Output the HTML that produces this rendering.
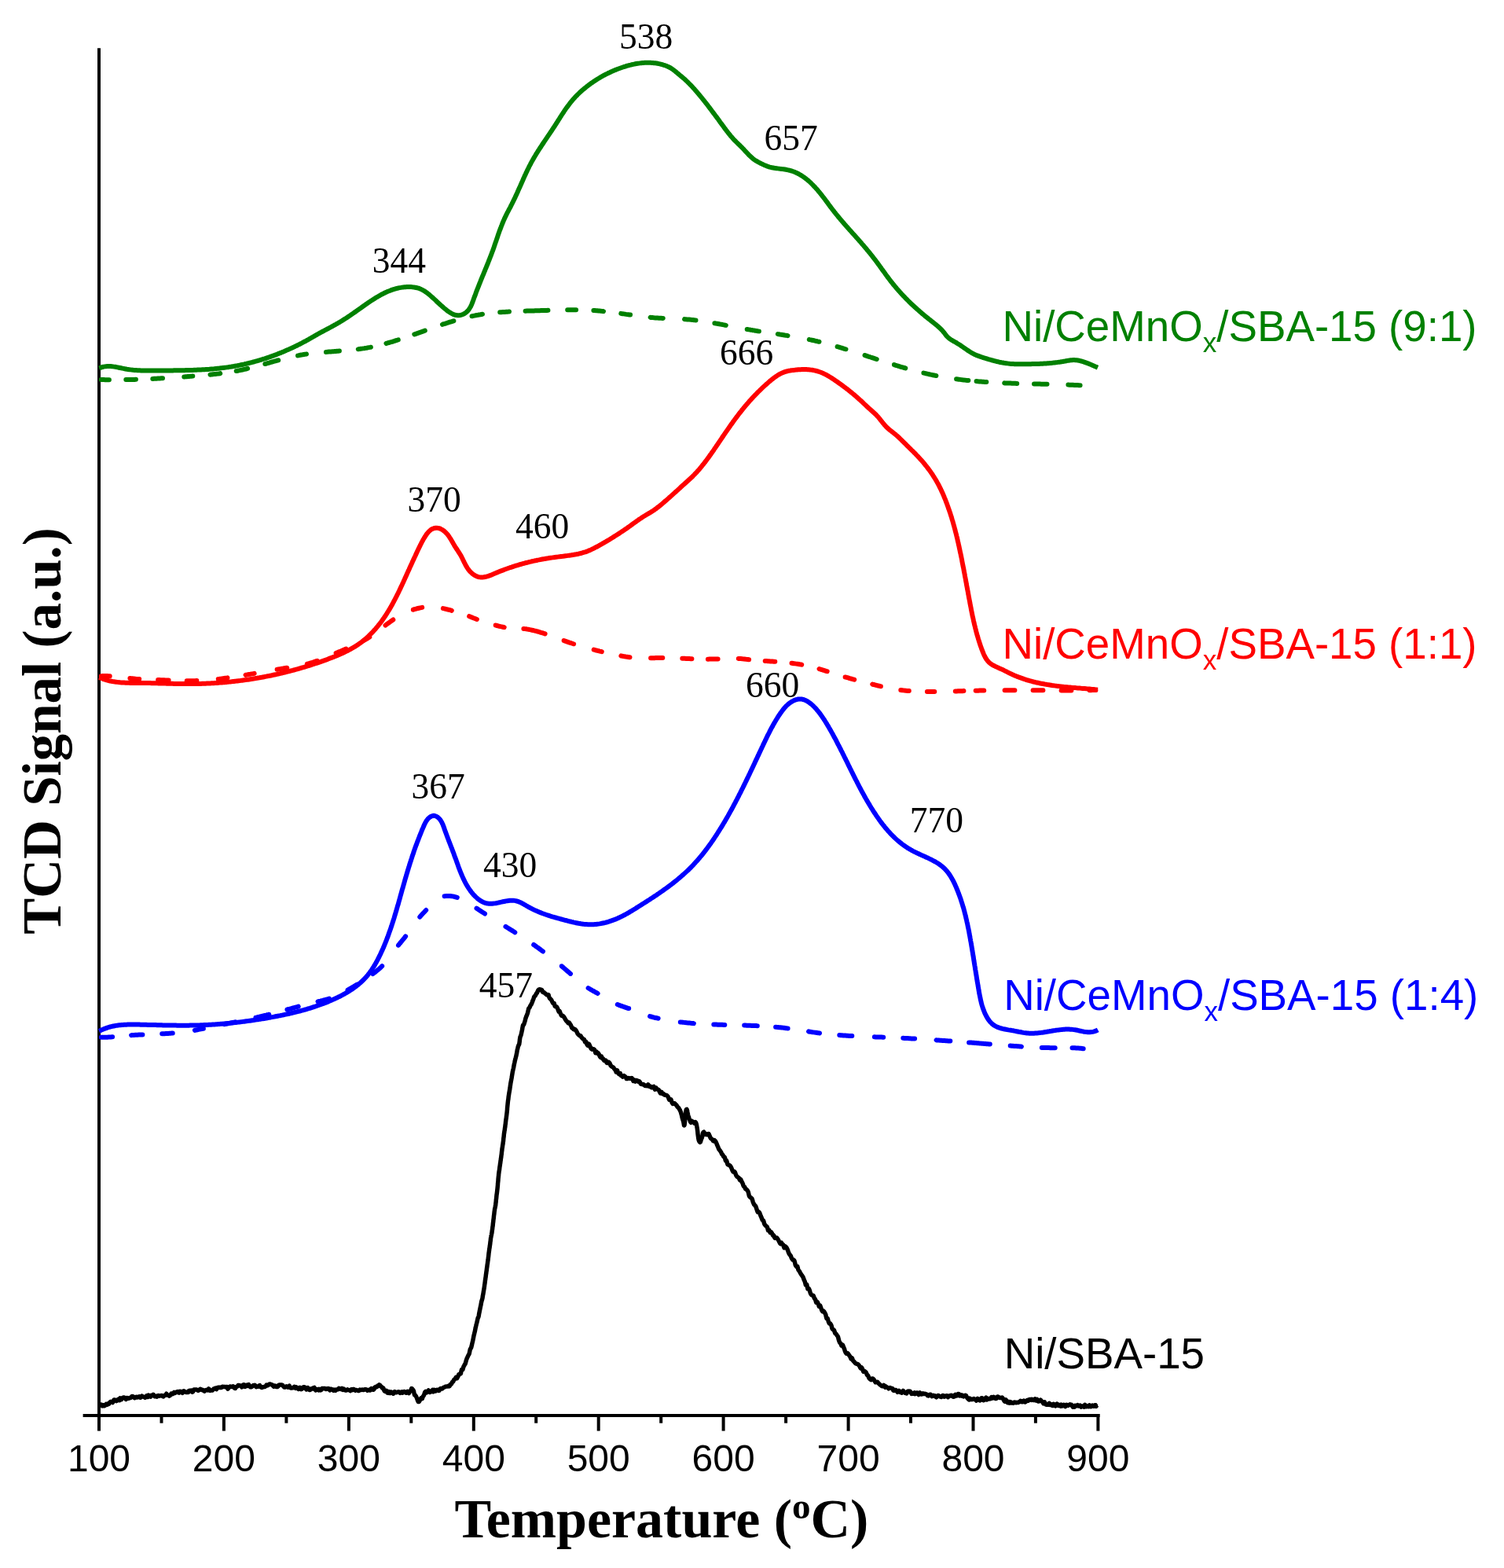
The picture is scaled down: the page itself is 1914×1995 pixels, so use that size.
<!DOCTYPE html>
<html><head><meta charset="utf-8"><title>TPR</title>
<style>html,body{margin:0;padding:0;background:#fff;}body{width:1914px;height:1995px;overflow:hidden;}svg{display:block;}</style>
</head><body>
<svg width="1914" height="1995" viewBox="0 0 1914 1995"><g stroke="#000" stroke-width="4" fill="none">
<line x1="126" y1="61.3" x2="126" y2="1803"/>
<line x1="105.6" y1="1801" x2="1399.6" y2="1801"/>
<line x1="126.0" y1="1799" x2="126.0" y2="1820.6"/>
<line x1="284.9" y1="1799" x2="284.9" y2="1820.6"/>
<line x1="443.9" y1="1799" x2="443.9" y2="1820.6"/>
<line x1="602.8" y1="1799" x2="602.8" y2="1820.6"/>
<line x1="761.7" y1="1799" x2="761.7" y2="1820.6"/>
<line x1="920.6" y1="1799" x2="920.6" y2="1820.6"/>
<line x1="1079.6" y1="1799" x2="1079.6" y2="1820.6"/>
<line x1="1238.5" y1="1799" x2="1238.5" y2="1820.6"/>
<line x1="1397.4" y1="1799" x2="1397.4" y2="1820.6"/>
<line x1="205.5" y1="1799" x2="205.5" y2="1810.7"/>
<line x1="364.4" y1="1799" x2="364.4" y2="1810.7"/>
<line x1="523.3" y1="1799" x2="523.3" y2="1810.7"/>
<line x1="682.2" y1="1799" x2="682.2" y2="1810.7"/>
<line x1="841.2" y1="1799" x2="841.2" y2="1810.7"/>
<line x1="1000.1" y1="1799" x2="1000.1" y2="1810.7"/>
<line x1="1159.0" y1="1799" x2="1159.0" y2="1810.7"/>
<line x1="1317.9" y1="1799" x2="1317.9" y2="1810.7"/>
</g>
<g font-family="Liberation Sans, Arial, sans-serif" font-size="48" text-anchor="middle" fill="#000">
<text x="126.0" y="1872.3">100</text>
<text x="284.9" y="1872.3">200</text>
<text x="443.9" y="1872.3">300</text>
<text x="602.8" y="1872.3">400</text>
<text x="761.7" y="1872.3">500</text>
<text x="920.6" y="1872.3">600</text>
<text x="1079.6" y="1872.3">700</text>
<text x="1238.5" y="1872.3">800</text>
<text x="1397.4" y="1872.3">900</text>
</g>
<path d="M128.8,483.1 L129.2,483.1 L130.7,483.1 L132.2,483.1 L133.7,483.2 L135.2,483.2 L136.7,483.2 L138.2,483.2 L138.9,483.2M160.3,483.1 L160.7,483.1 L162.2,483.1 L163.7,483.1 L165.2,483.0 L166.7,483.0 L168.2,483.0 L169.7,482.9 L171.2,482.9 L172.7,482.8 L172.9,482.8M194.3,481.9 L194.7,481.9 L196.2,481.8 L197.7,481.8 L199.2,481.7 L200.7,481.6 L202.2,481.5 L203.6,481.4 L205.1,481.3 L206.6,481.2 L207.0,481.2M234.3,479.4 L234.6,479.4 L236.1,479.3 L237.6,479.2 L239.1,479.0 L240.6,478.9 L242.1,478.8 L243.6,478.7 L245.0,478.6 L245.3,478.6M267.5,476.7 L268.0,476.6 L269.5,476.5 L270.9,476.3 L272.4,476.1 L273.9,476.0 L275.4,475.8 L276.9,475.6 L278.4,475.4 L279.9,475.3 L280.2,475.2M300.7,472.0 L301.1,472.0 L302.6,471.7 L304.1,471.4 L305.5,471.1 L307.0,470.8 L308.5,470.5 L309.9,470.1 L311.4,469.8 L312.9,469.5 L314.3,469.1 L315.1,468.9M337.3,463.0 L337.5,463.0 L339.0,462.6 L340.4,462.2 L341.8,461.8 L343.3,461.4 L344.7,460.9 L346.2,460.5 L347.6,460.1 L349.1,459.7 L350.5,459.3 L352.0,458.9 L353.4,458.5 L354.2,458.3M379.0,452.4 L379.2,452.4 L380.6,452.1 L382.1,451.8 L383.6,451.5 L385.1,451.3 L386.6,451.0 L388.0,450.8 L389.5,450.6 L390.0,450.5M414.9,447.9 L415.4,447.9 L416.9,447.7 L418.4,447.6 L419.9,447.5 L421.3,447.4 L422.8,447.3 L424.3,447.2 L425.8,447.1 L427.3,447.0 L428.8,446.8 L430.3,446.7 L431.8,446.6 L431.9,446.6M455.8,444.3 L456.2,444.2 L457.7,444.1 L459.2,443.8 L460.7,443.6 L462.1,443.4 L463.6,443.2 L465.1,442.9 L466.6,442.7 L468.1,442.4 L469.5,442.1 L471.0,441.9 L471.9,441.7M491.5,437.0 L491.9,436.8 L493.3,436.4 L494.8,436.0 L496.2,435.6 L497.7,435.2 L499.1,434.8 L500.5,434.3 L502.0,433.9 L503.4,433.4 L504.8,433.0 L506.3,432.5 L506.8,432.4M527.3,425.4 L527.6,425.3 L529.0,424.8 L530.4,424.3 L531.8,423.8 L533.2,423.3 L534.6,422.8 L536.1,422.3 L537.5,421.8 L538.9,421.3 L540.3,420.8 L540.8,420.6M563.0,412.9 L563.4,412.7 L564.8,412.2 L566.3,411.8 L567.7,411.3 L569.1,410.9 L570.6,410.4 L572.0,409.9 L573.4,409.5 L574.9,409.1 L576.3,408.6 L577.4,408.3M600.5,402.3 L601.0,402.2 L602.4,401.9 L603.9,401.6 L605.4,401.3 L606.8,401.0 L608.3,400.8 L609.8,400.5 L611.3,400.3 L612.8,400.0 L614.0,399.8M636.2,397.3 L636.6,397.3 L638.1,397.2 L639.6,397.1 L641.1,397.0 L642.6,396.9 L644.1,396.8 L645.6,396.7 L647.1,396.6 L648.0,396.5M668.6,395.7 L669.0,395.7 L670.5,395.6 L672.0,395.6 L673.5,395.6 L675.0,395.5 L676.5,395.5 L678.0,395.4 L679.5,395.4 L681.0,395.3 L682.5,395.3 L684.0,395.2 L685.5,395.2 L687.0,395.2 L688.5,395.1 L690.0,395.1 L691.5,395.0 L693.0,395.0 L694.5,394.9 L696.0,394.9 L697.4,394.8M722.2,394.2 L722.5,394.2 L724.0,394.2 L725.5,394.2 L727.0,394.2 L728.5,394.2 L730.0,394.2 L731.5,394.2 L733.0,394.2 L733.1,394.2M755.4,395.0 L755.5,395.0 L757.0,395.1 L758.5,395.2 L760.0,395.3 L761.5,395.5 L763.0,395.6 L764.5,395.7 L766.0,395.9 L767.5,396.0 L768.0,396.1M790.3,398.9 L790.8,399.0 L792.3,399.2 L793.7,399.4 L795.2,399.6 L796.7,399.9 L798.2,400.1 L799.7,400.3 L801.2,400.5 L802.1,400.6M827.7,403.8 L827.9,403.9 L829.4,404.0 L830.9,404.1 L832.4,404.3 L833.9,404.4 L835.4,404.5 L836.9,404.6 L838.4,404.7 L839.9,404.8 L841.4,404.8 L842.9,404.9 L843.8,405.0M871.1,406.1 L871.4,406.2 L872.9,406.3 L874.4,406.4 L875.9,406.5 L877.4,406.6 L878.9,406.7 L880.3,406.9 L881.8,407.0 L883.3,407.2 L884.8,407.4 L885.5,407.4M909.4,411.2 L909.5,411.2 L911.0,411.5 L912.5,411.7 L913.9,412.0 L915.4,412.3 L916.9,412.6 L918.4,412.8 L919.8,413.1 L921.3,413.4 L922.8,413.7 L923.8,413.9M950.7,418.9 L950.8,418.9 L952.3,419.2 L953.8,419.4 L955.2,419.7 L956.7,419.9 L958.2,420.2 L959.7,420.4 L961.1,420.7 L962.6,420.9 L964.1,421.2 L965.6,421.4 L965.9,421.4M989.8,425.1 L989.8,425.1 L991.3,425.3 L992.8,425.6 L994.3,425.8 L995.7,426.0 L997.2,426.2 L998.7,426.5 L1000.2,426.7 L1001.7,426.9 L1002.5,427.1M1029.8,432.0 L1030.2,432.1 L1031.7,432.4 L1033.1,432.7 L1034.6,433.0 L1036.1,433.3 L1037.5,433.7 L1039.0,434.0 L1040.5,434.4 L1041.9,434.7 L1042.5,434.8M1065.6,441.1 L1066.0,441.2 L1067.5,441.6 L1068.9,442.0 L1070.4,442.5 L1071.8,442.9 L1073.2,443.3 L1074.7,443.8 L1076.1,444.2 L1076.5,444.3M1100.5,452.0 L1100.9,452.1 L1102.3,452.6 L1103.7,453.1 L1105.1,453.6 L1106.6,454.0 L1108.0,454.5 L1109.4,455.0 L1110.8,455.4 L1112.3,455.9 L1113.7,456.4 L1115.1,456.8 L1115.7,457.0M1137.9,464.1 L1138.0,464.1 L1139.4,464.6 L1140.8,465.0 L1142.3,465.5 L1143.7,465.9 L1145.1,466.3 L1146.6,466.8 L1148.0,467.2 L1149.5,467.6 L1150.9,468.0 L1152.3,468.4M1175.4,474.6 L1175.5,474.6 L1177.0,474.9 L1178.5,475.3 L1179.9,475.6 L1181.4,475.9 L1182.8,476.3 L1184.3,476.6 L1185.8,476.9 L1187.2,477.2 L1188.7,477.5 L1190.2,477.8 L1191.4,478.0M1217.1,482.3 L1217.3,482.3 L1218.8,482.5 L1220.3,482.7 L1221.8,482.9 L1223.3,483.1 L1224.7,483.3 L1226.2,483.4 L1227.7,483.6 L1229.2,483.8 L1230.7,483.9 L1232.2,484.1 L1232.3,484.1M1242.6,485.1 L1242.6,485.1 L1244.1,485.2 L1245.6,485.4 L1247.1,485.5 L1248.6,485.6 L1250.1,485.7 L1251.6,485.8 L1253.1,485.9 L1254.6,486.1 L1255.3,486.1M1278.3,487.3 L1278.6,487.4 L1280.1,487.4 L1281.6,487.5 L1283.1,487.5 L1284.6,487.6 L1286.1,487.6 L1287.6,487.7 L1289.1,487.8 L1290.6,487.8 L1292.1,487.8 L1293.6,487.9 L1294.2,487.9M1316.0,488.5 L1316.1,488.5 L1317.6,488.5 L1319.0,488.5 L1320.5,488.6 L1322.0,488.6 L1323.5,488.6 L1325.0,488.7 L1326.5,488.7 L1328.0,488.7 L1329.5,488.8 L1331.0,488.8 L1332.5,488.8M1359.4,489.6 L1359.5,489.6 L1361.0,489.7 L1362.5,489.7 L1364.0,489.8 L1365.5,489.8 L1367.0,489.9 L1368.5,490.0 L1370.0,490.0 L1371.5,490.1 L1373.0,490.2 L1374.5,490.3 L1374.6,490.3" fill="none" stroke="#008000" stroke-width="6" stroke-linecap="round" stroke-linejoin="round"/>
<path d="M126.2,468.5 L127.6,467.9 L129.0,467.4 L130.4,467.0 L131.9,466.6 L133.4,466.4 L134.9,466.2 L136.4,466.1 L137.9,466.0 L139.4,466.0 L140.9,466.1 L142.4,466.2 L143.8,466.4 L145.3,466.6 L146.8,466.8 L148.3,467.1 L149.8,467.4 L151.2,467.7 L152.7,468.0 L154.2,468.3 L155.6,468.6 L157.1,468.9 L158.6,469.2 L160.0,469.5 L161.5,469.8 L163.0,470.0 L164.5,470.2 L166.0,470.4 L167.5,470.6 L168.9,470.7 L170.4,470.9 L171.9,471.0 L173.4,471.1 L174.9,471.2 L176.4,471.3 L177.9,471.3 L179.4,471.4 L180.9,471.4 L182.4,471.5 L183.9,471.5 L185.4,471.5 L186.9,471.5 L188.4,471.5 L189.9,471.5 L191.4,471.5 L192.9,471.5 L194.4,471.5 L195.9,471.5 L197.4,471.5 L198.9,471.4 L200.4,471.4 L201.9,471.4 L203.4,471.4 L204.9,471.4 L206.4,471.4 L207.9,471.4 L209.4,471.4 L210.9,471.4 L212.4,471.4 L213.9,471.4 L215.4,471.4 L216.9,471.4 L218.4,471.4 L219.9,471.4 L221.4,471.3 L222.9,471.3 L224.4,471.3 L225.9,471.3 L227.4,471.3 L228.9,471.3 L230.4,471.2 L231.9,471.2 L233.4,471.2 L234.9,471.2 L236.4,471.1 L237.9,471.1 L239.4,471.1 L240.9,471.0 L242.4,471.0 L243.9,470.9 L245.4,470.9 L246.9,470.8 L248.4,470.8 L249.9,470.7 L251.4,470.6 L252.9,470.6 L254.4,470.5 L255.9,470.4 L257.4,470.3 L258.9,470.3 L260.4,470.2 L261.9,470.1 L263.4,470.0 L264.9,469.9 L266.4,469.8 L267.9,469.6 L269.3,469.5 L270.8,469.4 L272.3,469.3 L273.8,469.1 L275.3,469.0 L276.8,468.8 L278.3,468.7 L279.8,468.5 L281.3,468.3 L282.8,468.1 L284.3,468.0 L285.8,467.8 L287.2,467.6 L288.7,467.4 L290.2,467.2 L291.7,466.9 L293.2,466.7 L294.7,466.5 L296.1,466.2 L297.6,466.0 L299.1,465.7 L300.6,465.4 L302.0,465.2 L303.5,464.9 L305.0,464.6 L306.5,464.3 L307.9,464.0 L309.4,463.7 L310.9,463.4 L312.3,463.0 L313.8,462.7 L315.2,462.3 L316.7,462.0 L318.1,461.6 L319.6,461.3 L321.1,460.9 L322.5,460.5 L324.0,460.1 L325.4,459.7 L326.8,459.3 L328.3,458.9 L329.7,458.5 L331.2,458.0 L332.6,457.6 L334.0,457.2 L335.5,456.7 L336.9,456.3 L338.3,455.8 L339.7,455.3 L341.2,454.8 L342.6,454.4 L344.0,453.9 L345.4,453.4 L346.8,452.9 L348.2,452.4 L349.6,451.8 L351.0,451.3 L352.4,450.8 L353.8,450.2 L355.2,449.7 L356.6,449.1 L358.0,448.6 L359.4,448.0 L360.8,447.4 L362.2,446.8 L363.5,446.2 L364.9,445.6 L366.3,445.0 L367.7,444.4 L369.0,443.8 L370.4,443.2 L371.8,442.6 L373.1,441.9 L374.5,441.3 L375.8,440.6 L377.2,440.0 L378.5,439.3 L379.9,438.6 L381.2,438.0 L382.5,437.3 L383.9,436.6 L385.2,435.9 L386.5,435.2 L387.8,434.5 L389.1,433.8 L390.5,433.0 L391.8,432.3 L393.1,431.6 L394.4,430.8 L395.7,430.1 L397.0,429.3 L398.3,428.6 L399.6,427.9 L400.9,427.1 L402.2,426.4 L403.5,425.6 L404.8,424.9 L406.1,424.2 L407.4,423.4 L408.8,422.7 L410.1,422.0 L411.4,421.3 L412.7,420.6 L414.0,419.9 L415.4,419.2 L416.7,418.5 L418.0,417.8 L419.3,417.1 L420.7,416.4 L422.0,415.7 L423.3,415.0 L424.6,414.2 L425.9,413.5 L427.2,412.8 L428.5,412.0 L429.8,411.3 L431.1,410.5 L432.4,409.8 L433.7,409.0 L435.0,408.2 L436.3,407.4 L437.5,406.6 L438.8,405.8 L440.1,405.0 L441.3,404.2 L442.6,403.4 L443.8,402.5 L445.1,401.7 L446.3,400.8 L447.5,400.0 L448.8,399.1 L450.0,398.3 L451.2,397.4 L452.5,396.6 L453.7,395.7 L454.9,394.8 L456.1,394.0 L457.3,393.1 L458.6,392.2 L459.8,391.4 L461.0,390.5 L462.2,389.6 L463.5,388.8 L464.7,387.9 L465.9,387.0 L467.1,386.2 L468.4,385.3 L469.6,384.5 L470.9,383.6 L472.1,382.8 L473.4,382.0 L474.6,381.2 L475.9,380.4 L477.2,379.6 L478.4,378.8 L479.7,378.0 L481.0,377.3 L482.3,376.5 L483.6,375.8 L484.9,375.0 L486.3,374.3 L487.6,373.7 L488.9,373.0 L490.3,372.3 L491.6,371.7 L493.0,371.1 L494.4,370.5 L495.8,370.0 L497.2,369.4 L498.6,368.9 L500.0,368.4 L501.4,368.0 L502.9,367.5 L504.3,367.1 L505.8,366.8 L507.2,366.4 L508.7,366.1 L510.2,365.9 L511.7,365.6 L513.2,365.4 L514.6,365.3 L516.1,365.2 L517.6,365.1 L519.1,365.0 L520.6,365.0 L522.1,365.1 L523.6,365.1 L525.1,365.3 L526.6,365.4 L528.1,365.7 L529.6,366.0 L531.0,366.3 L532.5,366.7 L533.9,367.2 L535.3,367.8 L536.6,368.4 L538.0,369.1 L539.3,369.8 L540.6,370.6 L541.8,371.5 L543.0,372.3 L544.2,373.2 L545.4,374.2 L546.6,375.1 L547.7,376.1 L548.8,377.1 L549.9,378.1 L551.1,379.1 L552.2,380.1 L553.3,381.1 L554.4,382.1 L555.4,383.2 L556.5,384.2 L557.6,385.2 L558.7,386.2 L559.8,387.3 L560.9,388.3 L562.1,389.3 L563.2,390.3 L564.3,391.3 L565.4,392.2 L566.6,393.2 L567.8,394.1 L568.9,395.1 L570.1,396.0 L571.4,396.8 L572.6,397.7 L573.9,398.4 L575.2,399.1 L576.6,399.8 L578.0,400.3 L579.4,400.8 L580.9,401.1 L582.4,401.2 L583.9,401.2 L585.4,401.0 L586.8,400.7 L588.2,400.3 L589.6,399.7 L591.0,399.0 L592.2,398.2 L593.4,397.3 L594.5,396.3 L595.6,395.2 L596.5,394.0 L597.3,392.8 L598.1,391.5 L598.9,390.2 L599.5,388.9 L600.2,387.5 L600.7,386.1 L601.3,384.7 L601.8,383.3 L602.3,381.9 L602.8,380.5 L603.3,379.1 L603.8,377.7 L604.4,376.3 L604.9,374.9 L605.4,373.5 L605.9,372.1 L606.4,370.6 L607.0,369.2 L607.5,367.8 L608.1,366.5 L608.6,365.1 L609.2,363.7 L609.7,362.3 L610.3,360.9 L610.8,359.5 L611.4,358.1 L611.9,356.7 L612.5,355.3 L613.1,353.9 L613.6,352.5 L614.2,351.1 L614.8,349.8 L615.4,348.4 L615.9,347.0 L616.5,345.6 L617.1,344.2 L617.6,342.8 L618.2,341.4 L618.8,340.1 L619.3,338.7 L619.9,337.3 L620.5,335.9 L621.0,334.5 L621.6,333.1 L622.1,331.7 L622.7,330.3 L623.2,328.9 L623.8,327.5 L624.3,326.1 L624.9,324.7 L625.4,323.3 L625.9,321.9 L626.4,320.5 L627.0,319.1 L627.5,317.7 L628.0,316.3 L628.5,314.9 L629.0,313.4 L629.5,312.0 L629.9,310.6 L630.4,309.2 L630.9,307.8 L631.4,306.4 L631.9,304.9 L632.4,303.5 L632.9,302.1 L633.3,300.7 L633.8,299.3 L634.3,297.8 L634.8,296.4 L635.3,295.0 L635.8,293.6 L636.3,292.2 L636.9,290.8 L637.4,289.4 L637.9,288.0 L638.5,286.6 L639.0,285.2 L639.6,283.8 L640.2,282.4 L640.7,281.0 L641.3,279.7 L641.9,278.3 L642.6,276.9 L643.2,275.6 L643.9,274.2 L644.5,272.9 L645.2,271.5 L645.9,270.2 L646.6,268.9 L647.3,267.5 L648.0,266.2 L648.7,264.9 L649.4,263.6 L650.1,262.2 L650.7,260.9 L651.4,259.6 L652.1,258.2 L652.8,256.9 L653.4,255.5 L654.1,254.2 L654.7,252.8 L655.4,251.5 L656.0,250.1 L656.6,248.8 L657.3,247.4 L657.9,246.0 L658.5,244.7 L659.1,243.3 L659.7,241.9 L660.3,240.6 L660.9,239.2 L661.6,237.8 L662.2,236.4 L662.8,235.1 L663.4,233.7 L664.0,232.3 L664.6,231.0 L665.2,229.6 L665.8,228.2 L666.4,226.8 L667.0,225.5 L667.6,224.1 L668.3,222.7 L668.9,221.4 L669.5,220.0 L670.2,218.7 L670.8,217.3 L671.4,216.0 L672.1,214.6 L672.8,213.3 L673.4,211.9 L674.1,210.6 L674.8,209.3 L675.5,207.9 L676.2,206.6 L676.9,205.3 L677.7,204.0 L678.4,202.7 L679.2,201.4 L679.9,200.1 L680.7,198.8 L681.5,197.5 L682.2,196.2 L683.0,195.0 L683.8,193.7 L684.6,192.4 L685.4,191.1 L686.2,189.9 L687.0,188.6 L687.9,187.4 L688.7,186.1 L689.5,184.9 L690.3,183.6 L691.2,182.4 L692.0,181.1 L692.8,179.9 L693.7,178.6 L694.5,177.4 L695.4,176.1 L696.2,174.9 L697.0,173.7 L697.9,172.4 L698.7,171.2 L699.6,169.9 L700.4,168.7 L701.2,167.4 L702.1,166.2 L702.9,164.9 L703.7,163.7 L704.5,162.4 L705.4,161.2 L706.2,159.9 L707.0,158.7 L707.8,157.4 L708.6,156.1 L709.4,154.9 L710.2,153.6 L711.0,152.3 L711.8,151.1 L712.6,149.8 L713.4,148.5 L714.2,147.3 L715.0,146.0 L715.9,144.8 L716.7,143.5 L717.5,142.3 L718.3,141.0 L719.2,139.8 L720.0,138.5 L720.9,137.3 L721.8,136.1 L722.7,134.9 L723.6,133.7 L724.5,132.5 L725.4,131.3 L726.3,130.1 L727.3,129.0 L728.2,127.8 L729.2,126.7 L730.2,125.5 L731.2,124.4 L732.2,123.3 L733.2,122.2 L734.3,121.2 L735.3,120.1 L736.4,119.1 L737.5,118.0 L738.6,117.0 L739.7,116.0 L740.8,115.0 L742.0,114.0 L743.1,113.1 L744.3,112.1 L745.4,111.2 L746.6,110.2 L747.8,109.3 L749.0,108.4 L750.2,107.5 L751.4,106.6 L752.6,105.7 L753.8,104.9 L755.1,104.0 L756.3,103.2 L757.6,102.4 L758.8,101.6 L760.1,100.8 L761.4,100.0 L762.7,99.2 L764.0,98.4 L765.3,97.7 L766.6,96.9 L767.9,96.2 L769.2,95.5 L770.5,94.8 L771.9,94.1 L773.2,93.5 L774.6,92.8 L775.9,92.2 L777.3,91.5 L778.6,90.9 L780.0,90.3 L781.4,89.7 L782.8,89.1 L784.2,88.6 L785.6,88.0 L787.0,87.5 L788.4,87.0 L789.8,86.5 L791.2,86.0 L792.6,85.5 L794.0,85.0 L795.5,84.6 L796.9,84.1 L798.3,83.7 L799.8,83.3 L801.2,82.9 L802.7,82.6 L804.1,82.2 L805.6,81.9 L807.1,81.6 L808.5,81.3 L810.0,81.0 L811.5,80.8 L813.0,80.6 L814.5,80.4 L816.0,80.2 L817.5,80.0 L819.0,79.9 L820.4,79.8 L821.9,79.8 L823.4,79.7 L824.9,79.7 L826.4,79.7 L827.9,79.8 L829.4,79.9 L830.9,80.0 L832.4,80.2 L833.9,80.3 L835.4,80.5 L836.9,80.8 L838.4,81.1 L839.8,81.4 L841.3,81.8 L842.7,82.1 L844.2,82.6 L845.6,83.0 L847.0,83.5 L848.4,84.1 L849.8,84.7 L851.1,85.3 L852.5,86.0 L853.8,86.7 L855.0,87.5 L856.3,88.4 L857.5,89.3 L858.7,90.2 L859.8,91.1 L861.0,92.1 L862.1,93.1 L863.3,94.0 L864.4,95.0 L865.6,96.0 L866.7,96.9 L867.9,97.9 L869.0,98.9 L870.1,99.8 L871.3,100.8 L872.4,101.8 L873.5,102.9 L874.6,103.9 L875.6,104.9 L876.7,106.0 L877.8,107.1 L878.8,108.1 L879.9,109.2 L880.9,110.3 L881.9,111.4 L882.9,112.5 L883.9,113.6 L884.9,114.8 L885.9,115.9 L886.9,117.0 L887.8,118.2 L888.8,119.3 L889.8,120.5 L890.7,121.6 L891.7,122.8 L892.6,123.9 L893.6,125.1 L894.5,126.3 L895.4,127.4 L896.4,128.6 L897.3,129.8 L898.2,131.0 L899.2,132.2 L900.1,133.3 L901.0,134.5 L901.9,135.7 L902.8,136.9 L903.7,138.1 L904.6,139.3 L905.5,140.5 L906.4,141.7 L907.3,142.9 L908.2,144.1 L909.1,145.3 L910.0,146.5 L910.9,147.7 L911.8,148.9 L912.7,150.1 L913.6,151.3 L914.5,152.5 L915.3,153.7 L916.2,155.0 L917.1,156.2 L918.0,157.4 L918.9,158.6 L919.8,159.8 L920.7,161.0 L921.5,162.2 L922.4,163.4 L923.3,164.6 L924.2,165.8 L925.2,167.0 L926.1,168.2 L927.0,169.4 L927.9,170.5 L928.9,171.7 L929.8,172.9 L930.8,174.0 L931.8,175.1 L932.8,176.3 L933.8,177.4 L934.8,178.5 L935.9,179.5 L936.9,180.6 L938.0,181.6 L939.1,182.7 L940.2,183.7 L941.2,184.8 L942.3,185.8 L943.4,186.9 L944.4,187.9 L945.5,189.0 L946.5,190.1 L947.5,191.2 L948.5,192.3 L949.6,193.4 L950.6,194.5 L951.6,195.6 L952.6,196.7 L953.7,197.8 L954.8,198.8 L955.9,199.8 L957.0,200.8 L958.1,201.8 L959.3,202.7 L960.6,203.6 L961.8,204.4 L963.1,205.1 L964.4,205.9 L965.7,206.6 L967.1,207.3 L968.4,208.0 L969.7,208.6 L971.1,209.3 L972.4,209.9 L973.8,210.5 L975.2,211.1 L976.6,211.7 L978.0,212.1 L979.5,212.6 L980.9,212.9 L982.4,213.3 L983.8,213.5 L985.3,213.8 L986.8,214.0 L988.3,214.2 L989.8,214.4 L991.3,214.6 L992.8,214.8 L994.2,214.9 L995.7,215.1 L997.2,215.3 L998.7,215.5 L1000.2,215.8 L1001.7,216.1 L1003.1,216.4 L1004.6,216.7 L1006.0,217.1 L1007.5,217.5 L1008.9,218.0 L1010.3,218.5 L1011.7,219.1 L1013.1,219.7 L1014.4,220.3 L1015.8,221.0 L1017.1,221.7 L1018.4,222.5 L1019.7,223.2 L1020.9,224.0 L1022.2,224.9 L1023.4,225.7 L1024.6,226.6 L1025.8,227.5 L1027.0,228.5 L1028.1,229.4 L1029.3,230.4 L1030.4,231.4 L1031.5,232.4 L1032.6,233.5 L1033.6,234.5 L1034.7,235.6 L1035.7,236.7 L1036.8,237.7 L1037.8,238.9 L1038.8,240.0 L1039.8,241.1 L1040.8,242.2 L1041.7,243.4 L1042.7,244.5 L1043.6,245.7 L1044.6,246.9 L1045.5,248.0 L1046.4,249.2 L1047.3,250.4 L1048.3,251.6 L1049.2,252.8 L1050.1,254.0 L1051.0,255.2 L1051.9,256.4 L1052.8,257.6 L1053.7,258.8 L1054.5,260.0 L1055.4,261.2 L1056.3,262.4 L1057.2,263.6 L1058.1,264.8 L1059.0,266.0 L1059.9,267.2 L1060.9,268.4 L1061.8,269.6 L1062.7,270.7 L1063.6,271.9 L1064.6,273.1 L1065.5,274.2 L1066.5,275.4 L1067.4,276.6 L1068.4,277.7 L1069.4,278.9 L1070.3,280.0 L1071.3,281.1 L1072.3,282.3 L1073.3,283.4 L1074.2,284.5 L1075.2,285.7 L1076.2,286.8 L1077.2,287.9 L1078.2,289.0 L1079.2,290.2 L1080.2,291.3 L1081.2,292.4 L1082.2,293.5 L1083.2,294.6 L1084.2,295.8 L1085.2,296.9 L1086.2,298.0 L1087.2,299.1 L1088.2,300.2 L1089.2,301.3 L1090.2,302.5 L1091.2,303.6 L1092.2,304.7 L1093.2,305.8 L1094.2,307.0 L1095.2,308.1 L1096.1,309.2 L1097.1,310.4 L1098.1,311.5 L1099.1,312.6 L1100.1,313.8 L1101.0,314.9 L1102.0,316.1 L1103.0,317.2 L1103.9,318.4 L1104.9,319.5 L1105.8,320.7 L1106.8,321.8 L1107.7,323.0 L1108.6,324.2 L1109.6,325.4 L1110.5,326.5 L1111.4,327.7 L1112.3,328.9 L1113.3,330.1 L1114.2,331.3 L1115.1,332.5 L1116.0,333.7 L1116.9,334.9 L1117.7,336.1 L1118.6,337.3 L1119.5,338.5 L1120.4,339.7 L1121.3,341.0 L1122.1,342.2 L1123.0,343.4 L1123.9,344.6 L1124.8,345.8 L1125.7,347.0 L1126.5,348.3 L1127.4,349.5 L1128.3,350.7 L1129.2,351.9 L1130.1,353.1 L1131.0,354.3 L1131.9,355.5 L1132.8,356.7 L1133.7,357.9 L1134.6,359.0 L1135.6,360.2 L1136.5,361.4 L1137.4,362.6 L1138.4,363.7 L1139.4,364.9 L1140.3,366.0 L1141.3,367.2 L1142.3,368.3 L1143.3,369.4 L1144.3,370.5 L1145.3,371.7 L1146.3,372.8 L1147.3,373.9 L1148.3,375.0 L1149.3,376.1 L1150.4,377.2 L1151.4,378.2 L1152.4,379.3 L1153.5,380.4 L1154.5,381.4 L1155.6,382.5 L1156.7,383.6 L1157.7,384.6 L1158.8,385.7 L1159.9,386.7 L1161.0,387.7 L1162.1,388.7 L1163.2,389.8 L1164.3,390.8 L1165.4,391.8 L1166.5,392.8 L1167.6,393.8 L1168.8,394.8 L1169.9,395.8 L1171.0,396.8 L1172.2,397.7 L1173.3,398.7 L1174.4,399.7 L1175.6,400.6 L1176.7,401.6 L1177.9,402.6 L1179.1,403.5 L1180.2,404.4 L1181.4,405.4 L1182.6,406.3 L1183.8,407.2 L1184.9,408.2 L1186.1,409.1 L1187.3,410.0 L1188.5,411.0 L1189.6,411.9 L1190.8,412.8 L1191.9,413.8 L1193.1,414.8 L1194.2,415.8 L1195.3,416.8 L1196.4,417.8 L1197.5,418.8 L1198.6,419.9 L1199.6,421.0 L1200.5,422.2 L1201.5,423.3 L1202.4,424.5 L1203.3,425.7 L1204.2,426.9 L1205.2,428.0 L1206.3,429.1 L1207.4,430.1 L1208.5,431.0 L1209.8,431.9 L1211.0,432.7 L1212.3,433.4 L1213.6,434.2 L1215.0,434.9 L1216.3,435.6 L1217.6,436.4 L1218.8,437.2 L1220.1,438.0 L1221.4,438.8 L1222.6,439.6 L1223.8,440.5 L1225.1,441.3 L1226.3,442.2 L1227.5,443.0 L1228.8,443.9 L1230.0,444.7 L1231.2,445.6 L1232.5,446.4 L1233.8,447.2 L1235.0,448.0 L1236.3,448.8 L1237.6,449.5 L1238.9,450.3 L1240.3,450.9 L1241.6,451.6 L1243.0,452.2 L1244.4,452.7 L1245.8,453.2 L1247.2,453.7 L1248.6,454.2 L1250.1,454.6 L1251.5,455.1 L1252.9,455.5 L1254.4,456.0 L1255.8,456.4 L1257.2,456.9 L1258.7,457.3 L1260.1,457.7 L1261.6,458.1 L1263.0,458.5 L1264.5,458.9 L1265.9,459.3 L1267.4,459.6 L1268.8,460.0 L1270.3,460.3 L1271.7,460.7 L1273.2,461.0 L1274.7,461.3 L1276.2,461.5 L1277.6,461.8 L1279.1,462.0 L1280.6,462.2 L1282.1,462.4 L1283.6,462.6 L1285.1,462.8 L1286.6,462.9 L1288.1,463.0 L1289.6,463.1 L1291.0,463.2 L1292.5,463.2 L1294.0,463.3 L1295.5,463.3 L1297.0,463.3 L1298.5,463.3 L1300.0,463.3 L1301.5,463.3 L1303.0,463.3 L1304.5,463.3 L1306.0,463.3 L1307.5,463.3 L1309.0,463.2 L1310.5,463.2 L1312.0,463.2 L1313.5,463.1 L1315.0,463.1 L1316.5,463.1 L1318.0,463.0 L1319.5,463.0 L1321.0,462.9 L1322.5,462.9 L1324.0,462.8 L1325.5,462.7 L1327.0,462.7 L1328.5,462.6 L1330.0,462.5 L1331.5,462.4 L1333.0,462.3 L1334.5,462.2 L1336.0,462.1 L1337.5,461.9 L1339.0,461.8 L1340.5,461.6 L1342.0,461.5 L1343.5,461.3 L1344.9,461.1 L1346.4,460.9 L1347.9,460.7 L1349.4,460.5 L1350.9,460.2 L1352.4,460.0 L1353.8,459.7 L1355.3,459.5 L1356.8,459.2 L1358.3,458.9 L1359.8,458.7 L1361.2,458.5 L1362.7,458.3 L1364.2,458.2 L1365.7,458.1 L1367.2,458.1 L1368.7,458.2 L1370.2,458.3 L1371.7,458.5 L1373.2,458.8 L1374.6,459.1 L1376.1,459.5 L1377.5,459.9 L1379.0,460.3 L1380.4,460.8 L1381.8,461.3 L1383.2,461.8 L1384.6,462.4 L1386.0,462.9 L1387.4,463.5 L1388.7,464.1 L1390.1,464.7 L1391.5,465.3 L1392.9,465.9 L1394.2,466.5 L1395.6,467.1 L1397.0,467.7" fill="none" stroke="#008000" stroke-width="6" stroke-linejoin="round"/>
<path d="M128.8,860.2 L129.2,860.2 L130.7,860.1 L132.2,860.1 L133.7,860.1 L135.2,860.1 L136.7,860.1 L138.2,860.2 L139.7,860.3 L139.7,860.3M165.4,863.0 L165.5,863.0 L167.0,863.2 L168.5,863.3 L170.0,863.5 L171.5,863.6 L173.0,863.8 L174.5,863.9 L176.0,864.0 L177.2,864.1M201.1,865.1 L201.4,865.1 L202.9,865.1 L204.4,865.2 L205.9,865.2 L207.4,865.3 L208.9,865.3 L210.4,865.4 L211.9,865.4 L213.4,865.5 L214.6,865.5M237.7,866.2 L237.9,866.2 L239.4,866.3 L240.9,866.3 L242.4,866.3 L243.9,866.2 L245.4,866.2 L246.9,866.2 L248.4,866.2 L249.9,866.1 L250.4,866.1M277.7,863.9 L277.8,863.9 L279.3,863.8 L280.8,863.6 L282.3,863.4 L283.8,863.2 L285.3,863.0 L286.7,862.8 L288.2,862.6 L289.5,862.4M312.6,858.8 L312.9,858.7 L314.4,858.5 L315.9,858.2 L317.3,857.9 L318.8,857.7 L320.3,857.4 L321.8,857.2 L323.3,856.9 L323.6,856.8M352.6,851.7 L352.8,851.7 L354.3,851.4 L355.7,851.2 L357.2,851.0 L358.7,850.7 L360.2,850.5 L361.7,850.2 L363.1,850.0 L364.6,849.8 L365.3,849.7M390.9,844.8 L391.1,844.7 L392.6,844.3 L394.0,843.9 L395.5,843.5 L396.9,843.1 L398.3,842.7 L399.8,842.2 L401.2,841.7 L402.6,841.2 L403.6,840.9M427.6,831.0 L428.0,830.8 L429.4,830.2 L430.8,829.6 L432.2,829.0 L433.6,828.5 L434.9,827.9 L436.3,827.3 L437.7,826.7 L439.1,826.1 L440.4,825.6M462.6,815.1 L462.6,815.1 L463.9,814.4 L465.2,813.6 L466.5,812.9 L467.8,812.1 L469.1,811.3 L470.3,810.5M490.5,795.6 L490.8,795.3 L492.0,794.4 L493.2,793.5 L494.4,792.7 L495.7,791.8 L496.9,790.9 L498.1,790.0 L499.3,789.2 L500.3,788.5M525.8,775.7 L526.0,775.7 L527.4,775.2 L528.9,774.8 L530.3,774.4 L531.8,774.0 L533.2,773.7 L534.7,773.4 L536.2,773.1 L537.2,772.9M563.9,774.1 L563.9,774.1 L565.4,774.4 L566.9,774.8 L568.3,775.1 L569.8,775.5 L571.2,775.8 L572.7,776.2 L574.2,776.6 L574.8,776.8M597.1,784.1 L597.4,784.2 L598.8,784.8 L600.2,785.3 L601.6,785.9 L603.0,786.5 L604.4,787.0 L605.8,787.6 L606.9,788.0M630.7,795.6 L631.0,795.6 L632.4,796.0 L633.9,796.4 L635.3,796.8 L636.8,797.1 L638.3,797.4 L639.7,797.7 L641.2,798.0 L641.7,798.1M666.4,799.9 L666.6,799.9 L668.1,800.1 L669.6,800.3 L671.1,800.6 L672.5,800.8 L674.0,801.1 L675.5,801.4 L676.9,801.7 L678.4,802.0 L679.9,802.4 L681.3,802.7 L682.8,803.1 L684.2,803.5 L685.7,803.9 L687.1,804.3 L688.5,804.8 L690.0,805.2 L691.4,805.7 L692.8,806.1 L693.6,806.4M717.6,815.1 L717.7,815.1 L719.2,815.6 L720.6,816.1 L722.0,816.6 L723.4,817.1 L724.8,817.6 L726.3,818.0 L727.7,818.5 L729.1,819.0 L730.1,819.3M755.7,826.6 L756.0,826.7 L757.5,827.1 L758.9,827.5 L760.4,827.8 L761.8,828.2 L763.3,828.6 L764.7,828.9 L765.8,829.2M790.4,834.5 L790.6,834.6 L792.1,834.8 L793.6,835.1 L795.0,835.3 L796.5,835.6 L798.0,835.8 L799.5,836.0 L801.0,836.2 L801.5,836.3M828.1,837.3 L828.4,837.3 L829.9,837.2 L831.4,837.2 L832.9,837.2 L834.4,837.1 L835.9,837.1 L837.4,837.1 L838.9,837.0 L840.4,837.0 L841.9,837.0 L843.3,837.0M868.3,837.7 L868.4,837.7 L869.9,837.8 L871.4,837.8 L872.9,837.9 L874.4,838.0 L875.9,838.0 L877.4,838.1 L878.9,838.2 L880.4,838.2 L880.4,838.2M900.9,838.7 L901.4,838.7 L902.9,838.6 L904.4,838.6 L905.9,838.6 L907.4,838.6 L908.9,838.6 L910.4,838.5 L911.9,838.5 L913.4,838.4 L913.6,838.4M939.8,837.9 L939.8,837.9 L941.3,838.0 L942.8,838.1 L944.3,838.2 L945.8,838.4 L947.3,838.5 L948.8,838.7 L950.3,838.9 L951.8,839.0 L953.1,839.2M973.7,841.0 L974.2,841.0 L975.7,841.1 L977.2,841.2 L978.7,841.3 L980.2,841.4 L981.7,841.5 L983.2,841.6 L984.7,841.7 L986.1,841.8 L986.3,841.8M1007.5,843.8 L1007.6,843.8 L1009.0,844.0 L1010.5,844.2 L1012.0,844.4 L1013.5,844.6 L1015.0,844.8 L1016.5,845.0 L1017.9,845.3 L1019.4,845.5 L1020.2,845.7M1042.6,851.1 L1042.7,851.2 L1044.2,851.6 L1045.6,852.0 L1047.0,852.5 L1048.5,852.9 L1049.9,853.3 L1051.3,853.8 L1052.7,854.2M1075.6,861.4 L1075.7,861.4 L1077.1,861.8 L1078.6,862.2 L1080.0,862.6 L1081.4,863.1 L1082.9,863.5 L1084.3,863.9 L1085.8,864.3 L1087.2,864.7M1110.3,870.6 L1110.4,870.7 L1111.9,871.0 L1113.4,871.4 L1114.8,871.8 L1116.3,872.1 L1117.7,872.5 L1119.2,872.8 L1120.6,873.2 L1120.9,873.2M1146.3,878.0 L1146.7,878.0 L1148.2,878.2 L1149.6,878.4 L1151.1,878.6 L1152.6,878.7 L1154.1,878.9 L1155.6,879.0 L1156.8,879.1M1179.9,880.0 L1180.1,880.0 L1181.6,880.0 L1183.1,880.0 L1184.6,880.0 L1186.1,880.0 L1187.6,880.0 L1189.1,880.0 L1189.3,880.0M1215.8,879.4 L1216.1,879.4 L1217.6,879.4 L1219.1,879.3 L1220.6,879.3 L1222.1,879.3 L1223.6,879.2 L1225.1,879.2 L1226.4,879.1M1241.7,878.7 L1242.0,878.7 L1243.5,878.7 L1245.0,878.7 L1246.5,878.6 L1248.0,878.6 L1249.5,878.6 L1251.0,878.6 L1252.2,878.5M1278.6,878.2 L1279.0,878.2 L1280.5,878.2 L1282.0,878.2 L1283.5,878.2 L1285.0,878.2 L1286.5,878.2 L1288.0,878.2 L1289.5,878.2 L1291.0,878.2 L1291.4,878.2M1314.6,878.3 L1315.0,878.3 L1316.5,878.3 L1318.0,878.3 L1319.5,878.3 L1321.0,878.3 L1322.5,878.3 L1324.0,878.3 L1325.5,878.3 L1327.0,878.3 L1327.4,878.3M1350.6,878.4 L1351.0,878.4 L1352.5,878.4 L1354.0,878.4 L1355.5,878.4 L1357.0,878.4 L1358.5,878.4 L1360.0,878.4 L1361.5,878.4 L1363.0,878.4 L1363.4,878.4M1386.6,878.2 L1387.0,878.2 L1388.5,878.2 L1390.0,878.1 L1391.5,878.1 L1393.0,878.1 L1394.4,878.0" fill="none" stroke="#ff0000" stroke-width="6" stroke-linecap="round" stroke-linejoin="round"/>
<path d="M126.2,861.8 L127.6,862.4 L128.9,863.0 L130.3,863.5 L131.8,864.1 L133.2,864.5 L134.6,865.0 L136.0,865.4 L137.5,865.8 L138.9,866.2 L140.4,866.5 L141.9,866.8 L143.3,867.1 L144.8,867.3 L146.3,867.5 L147.8,867.7 L149.3,867.9 L150.8,868.1 L152.3,868.2 L153.8,868.4 L155.3,868.5 L156.7,868.6 L158.2,868.6 L159.7,868.7 L161.2,868.8 L162.7,868.8 L164.2,868.8 L165.7,868.9 L167.2,868.9 L168.7,868.9 L170.2,868.9 L171.7,868.9 L173.2,868.9 L174.7,868.9 L176.2,868.9 L177.7,868.9 L179.2,869.0 L180.7,869.0 L182.2,869.0 L183.7,869.0 L185.2,869.0 L186.7,869.0 L188.2,869.1 L189.7,869.1 L191.2,869.1 L192.7,869.2 L194.2,869.2 L195.7,869.2 L197.2,869.3 L198.7,869.3 L200.2,869.3 L201.7,869.4 L203.2,869.4 L204.7,869.5 L206.2,869.5 L207.7,869.5 L209.2,869.6 L210.7,869.6 L212.2,869.7 L213.7,869.7 L215.2,869.7 L216.7,869.8 L218.2,869.8 L219.7,869.8 L221.2,869.9 L222.7,869.9 L224.2,869.9 L225.7,870.0 L227.2,870.0 L228.7,870.0 L230.2,870.0 L231.7,870.1 L233.2,870.1 L234.7,870.1 L236.2,870.1 L237.7,870.1 L239.2,870.1 L240.7,870.1 L242.2,870.1 L243.7,870.1 L245.2,870.1 L246.7,870.1 L248.2,870.1 L249.7,870.0 L251.2,870.0 L252.7,870.0 L254.2,869.9 L255.7,869.9 L257.2,869.8 L258.7,869.8 L260.2,869.7 L261.7,869.7 L263.2,869.6 L264.7,869.6 L266.2,869.5 L267.7,869.4 L269.1,869.3 L270.6,869.2 L272.1,869.2 L273.6,869.1 L275.1,869.0 L276.6,868.9 L278.1,868.8 L279.6,868.6 L281.1,868.5 L282.6,868.4 L284.1,868.3 L285.6,868.2 L287.1,868.0 L288.6,867.9 L290.1,867.7 L291.6,867.6 L293.1,867.4 L294.6,867.3 L296.0,867.1 L297.5,867.0 L299.0,866.8 L300.5,866.6 L302.0,866.5 L303.5,866.3 L305.0,866.1 L306.5,865.9 L307.9,865.7 L309.4,865.5 L310.9,865.3 L312.4,865.1 L313.9,864.9 L315.4,864.7 L316.9,864.5 L318.3,864.2 L319.8,864.0 L321.3,863.8 L322.8,863.5 L324.3,863.3 L325.7,863.0 L327.2,862.8 L328.7,862.5 L330.2,862.3 L331.6,862.0 L333.1,861.8 L334.6,861.5 L336.1,861.2 L337.5,860.9 L339.0,860.6 L340.5,860.3 L342.0,860.1 L343.4,859.8 L344.9,859.5 L346.4,859.1 L347.8,858.8 L349.3,858.5 L350.8,858.2 L352.2,857.9 L353.7,857.5 L355.1,857.2 L356.6,856.9 L358.1,856.5 L359.5,856.2 L361.0,855.8 L362.4,855.5 L363.9,855.1 L365.3,854.7 L366.8,854.4 L368.3,854.0 L369.7,853.6 L371.2,853.2 L372.6,852.9 L374.0,852.5 L375.5,852.1 L376.9,851.7 L378.4,851.3 L379.8,850.9 L381.3,850.5 L382.7,850.0 L384.1,849.6 L385.6,849.2 L387.0,848.8 L388.5,848.3 L389.9,847.9 L391.3,847.4 L392.8,847.0 L394.2,846.6 L395.6,846.1 L397.0,845.6 L398.5,845.2 L399.9,844.7 L401.3,844.2 L402.7,843.8 L404.2,843.3 L405.6,842.8 L407.0,842.3 L408.4,841.8 L409.8,841.3 L411.2,840.8 L412.6,840.3 L414.1,839.8 L415.5,839.3 L416.9,838.8 L418.3,838.2 L419.7,837.7 L421.1,837.2 L422.5,836.7 L423.9,836.1 L425.3,835.6 L426.7,835.0 L428.1,834.4 L429.4,833.9 L430.8,833.3 L432.2,832.7 L433.6,832.1 L434.9,831.5 L436.3,830.9 L437.7,830.2 L439.0,829.6 L440.4,828.9 L441.7,828.3 L443.0,827.6 L444.4,826.9 L445.7,826.2 L447.0,825.4 L448.3,824.7 L449.6,823.9 L450.9,823.2 L452.2,822.4 L453.4,821.6 L454.7,820.8 L455.9,819.9 L457.1,819.1 L458.4,818.2 L459.6,817.3 L460.8,816.4 L461.9,815.5 L463.1,814.5 L464.3,813.6 L465.4,812.6 L466.5,811.6 L467.6,810.6 L468.7,809.6 L469.8,808.5 L470.9,807.5 L472.0,806.4 L473.0,805.4 L474.1,804.3 L475.1,803.2 L476.1,802.1 L477.1,801.0 L478.1,799.9 L479.1,798.7 L480.0,797.6 L481.0,796.4 L481.9,795.2 L482.8,794.1 L483.8,792.9 L484.7,791.7 L485.6,790.5 L486.4,789.3 L487.3,788.0 L488.2,786.8 L489.0,785.6 L489.9,784.3 L490.7,783.1 L491.5,781.8 L492.3,780.6 L493.1,779.3 L493.9,778.0 L494.7,776.7 L495.5,775.5 L496.2,774.2 L497.0,772.9 L497.7,771.6 L498.5,770.3 L499.2,769.0 L499.9,767.6 L500.6,766.3 L501.3,765.0 L502.0,763.7 L502.7,762.4 L503.4,761.0 L504.1,759.7 L504.8,758.4 L505.4,757.0 L506.1,755.7 L506.8,754.3 L507.4,753.0 L508.1,751.6 L508.7,750.3 L509.4,748.9 L510.0,747.6 L510.6,746.2 L511.3,744.8 L511.9,743.5 L512.5,742.1 L513.2,740.8 L513.8,739.4 L514.4,738.0 L515.0,736.7 L515.6,735.3 L516.3,733.9 L516.9,732.6 L517.5,731.2 L518.1,729.8 L518.7,728.5 L519.3,727.1 L520.0,725.7 L520.6,724.4 L521.2,723.0 L521.8,721.6 L522.4,720.3 L523.1,718.9 L523.7,717.5 L524.3,716.2 L524.9,714.8 L525.5,713.5 L526.2,712.1 L526.8,710.7 L527.4,709.4 L528.1,708.0 L528.7,706.7 L529.3,705.3 L530.0,703.9 L530.6,702.6 L531.2,701.2 L531.9,699.9 L532.5,698.5 L533.2,697.2 L533.8,695.8 L534.5,694.5 L535.1,693.1 L535.8,691.8 L536.5,690.4 L537.2,689.1 L537.9,687.8 L538.6,686.5 L539.4,685.2 L540.2,683.9 L541.0,682.6 L541.8,681.4 L542.6,680.1 L543.5,678.9 L544.4,677.8 L545.4,676.6 L546.5,675.6 L547.6,674.6 L548.8,673.7 L550.1,673.0 L551.5,672.4 L553.0,672.0 L554.4,671.7 L555.9,671.7 L557.4,671.9 L558.9,672.2 L560.3,672.7 L561.6,673.4 L563.0,674.1 L564.2,674.9 L565.4,675.9 L566.5,676.8 L567.6,677.9 L568.6,679.0 L569.6,680.1 L570.5,681.3 L571.4,682.5 L572.2,683.8 L573.0,685.0 L573.8,686.3 L574.6,687.6 L575.3,688.9 L576.1,690.2 L576.8,691.5 L577.6,692.8 L578.3,694.1 L579.1,695.4 L579.9,696.6 L580.7,697.9 L581.6,699.1 L582.4,700.4 L583.2,701.6 L584.0,702.9 L584.8,704.2 L585.6,705.4 L586.4,706.7 L587.1,708.0 L587.8,709.4 L588.5,710.7 L589.1,712.1 L589.8,713.4 L590.4,714.7 L591.1,716.1 L591.8,717.4 L592.5,718.8 L593.2,720.1 L594.0,721.4 L594.7,722.6 L595.6,723.9 L596.5,725.1 L597.4,726.3 L598.4,727.4 L599.5,728.4 L600.6,729.5 L601.7,730.4 L603.0,731.3 L604.2,732.1 L605.6,732.8 L606.9,733.4 L608.3,733.9 L609.8,734.2 L611.3,734.4 L612.8,734.5 L614.3,734.4 L615.8,734.3 L617.2,734.0 L618.7,733.7 L620.2,733.3 L621.6,732.9 L623.0,732.4 L624.4,731.8 L625.8,731.3 L627.2,730.7 L628.6,730.1 L629.9,729.5 L631.3,728.9 L632.7,728.4 L634.1,727.8 L635.5,727.2 L636.9,726.7 L638.3,726.1 L639.7,725.6 L641.1,725.1 L642.5,724.5 L643.9,724.0 L645.3,723.5 L646.7,723.0 L648.1,722.5 L649.5,722.0 L651.0,721.6 L652.4,721.1 L653.8,720.6 L655.2,720.2 L656.7,719.7 L658.1,719.3 L659.5,718.9 L661.0,718.4 L662.4,718.0 L663.9,717.6 L665.3,717.2 L666.7,716.8 L668.2,716.4 L669.6,716.0 L671.1,715.7 L672.5,715.3 L674.0,714.9 L675.5,714.6 L676.9,714.2 L678.4,713.9 L679.8,713.6 L681.3,713.3 L682.8,713.0 L684.2,712.6 L685.7,712.4 L687.2,712.1 L688.7,711.8 L690.1,711.5 L691.6,711.2 L693.1,711.0 L694.6,710.7 L696.0,710.5 L697.5,710.3 L699.0,710.0 L700.5,709.8 L702.0,709.6 L703.5,709.4 L704.9,709.2 L706.4,709.0 L707.9,708.8 L709.4,708.6 L710.9,708.4 L712.4,708.2 L713.9,708.0 L715.3,707.9 L716.8,707.7 L718.3,707.5 L719.8,707.3 L721.3,707.1 L722.8,706.9 L724.3,706.7 L725.8,706.5 L727.2,706.3 L728.7,706.0 L730.2,705.8 L731.7,705.5 L733.1,705.3 L734.6,705.0 L736.1,704.7 L737.5,704.3 L739.0,704.0 L740.4,703.6 L741.9,703.2 L743.3,702.7 L744.8,702.3 L746.2,701.8 L747.6,701.3 L749.0,700.7 L750.4,700.2 L751.7,699.6 L753.1,698.9 L754.4,698.3 L755.8,697.6 L757.1,696.9 L758.4,696.2 L759.8,695.5 L761.1,694.8 L762.4,694.1 L763.7,693.3 L765.0,692.6 L766.3,691.9 L767.6,691.1 L768.9,690.4 L770.2,689.6 L771.5,688.9 L772.8,688.1 L774.1,687.3 L775.4,686.6 L776.7,685.8 L777.9,685.0 L779.2,684.2 L780.5,683.4 L781.8,682.6 L783.0,681.8 L784.3,681.0 L785.5,680.2 L786.8,679.4 L788.1,678.6 L789.3,677.8 L790.6,676.9 L791.8,676.1 L793.1,675.3 L794.3,674.4 L795.5,673.6 L796.8,672.7 L798.0,671.9 L799.2,671.0 L800.5,670.1 L801.7,669.3 L802.9,668.4 L804.1,667.5 L805.3,666.6 L806.5,665.8 L807.7,664.9 L809.0,664.0 L810.2,663.1 L811.4,662.2 L812.6,661.4 L813.8,660.5 L815.1,659.7 L816.3,658.9 L817.6,658.0 L818.9,657.2 L820.1,656.5 L821.4,655.7 L822.7,654.9 L824.0,654.2 L825.3,653.4 L826.6,652.6 L827.9,651.9 L829.1,651.1 L830.4,650.3 L831.7,649.5 L832.9,648.6 L834.1,647.7 L835.3,646.9 L836.5,645.9 L837.7,645.0 L838.9,644.1 L840.1,643.2 L841.2,642.2 L842.4,641.2 L843.5,640.3 L844.7,639.3 L845.8,638.3 L846.9,637.3 L848.1,636.4 L849.2,635.4 L850.3,634.4 L851.4,633.4 L852.6,632.4 L853.7,631.4 L854.8,630.4 L855.9,629.4 L857.0,628.4 L858.1,627.4 L859.2,626.4 L860.4,625.4 L861.5,624.4 L862.6,623.4 L863.7,622.4 L864.8,621.4 L865.9,620.3 L867.0,619.3 L868.1,618.3 L869.2,617.3 L870.4,616.3 L871.5,615.3 L872.6,614.3 L873.7,613.3 L874.8,612.3 L875.9,611.3 L877.0,610.3 L878.1,609.3 L879.2,608.2 L880.3,607.2 L881.4,606.2 L882.4,605.1 L883.5,604.0 L884.5,602.9 L885.5,601.9 L886.6,600.8 L887.6,599.6 L888.6,598.5 L889.6,597.4 L890.5,596.3 L891.5,595.1 L892.5,594.0 L893.4,592.8 L894.3,591.6 L895.3,590.5 L896.2,589.3 L897.1,588.1 L898.0,586.9 L898.9,585.7 L899.8,584.5 L900.7,583.3 L901.6,582.1 L902.5,580.9 L903.3,579.6 L904.2,578.4 L905.1,577.2 L905.9,576.0 L906.8,574.7 L907.7,573.5 L908.5,572.3 L909.3,571.0 L910.2,569.8 L911.0,568.6 L911.9,567.3 L912.7,566.1 L913.6,564.8 L914.4,563.6 L915.2,562.4 L916.1,561.1 L916.9,559.9 L917.8,558.6 L918.6,557.4 L919.4,556.1 L920.3,554.9 L921.1,553.7 L922.0,552.4 L922.8,551.2 L923.7,549.9 L924.5,548.7 L925.4,547.5 L926.2,546.2 L927.1,545.0 L927.9,543.8 L928.8,542.6 L929.6,541.3 L930.5,540.1 L931.4,538.9 L932.3,537.7 L933.1,536.4 L934.0,535.2 L934.9,534.0 L935.8,532.8 L936.7,531.6 L937.6,530.4 L938.5,529.2 L939.4,528.0 L940.3,526.8 L941.2,525.6 L942.1,524.5 L943.1,523.3 L944.0,522.1 L944.9,520.9 L945.9,519.8 L946.8,518.6 L947.8,517.5 L948.7,516.3 L949.7,515.2 L950.7,514.0 L951.7,512.9 L952.6,511.8 L953.6,510.6 L954.6,509.5 L955.6,508.4 L956.6,507.3 L957.7,506.2 L958.7,505.1 L959.7,504.0 L960.7,502.9 L961.8,501.8 L962.8,500.8 L963.9,499.7 L964.9,498.6 L966.0,497.6 L967.1,496.5 L968.2,495.5 L969.2,494.5 L970.3,493.4 L971.4,492.4 L972.5,491.4 L973.6,490.4 L974.7,489.4 L975.9,488.4 L977.0,487.4 L978.1,486.4 L979.2,485.4 L980.4,484.4 L981.5,483.5 L982.7,482.5 L983.9,481.6 L985.1,480.7 L986.3,479.8 L987.5,479.0 L988.8,478.1 L990.0,477.3 L991.3,476.5 L992.6,475.8 L994.0,475.1 L995.3,474.5 L996.7,473.9 L998.1,473.4 L999.5,472.9 L1001.0,472.5 L1002.4,472.1 L1003.9,471.8 L1005.4,471.6 L1006.8,471.3 L1008.3,471.1 L1009.8,470.9 L1011.3,470.8 L1012.8,470.6 L1014.3,470.5 L1015.8,470.3 L1017.3,470.2 L1018.8,470.2 L1020.3,470.1 L1021.8,470.1 L1023.3,470.1 L1024.8,470.1 L1026.3,470.1 L1027.8,470.2 L1029.3,470.3 L1030.7,470.4 L1032.2,470.6 L1033.7,470.8 L1035.2,471.1 L1036.7,471.4 L1038.1,471.7 L1039.6,472.1 L1041.0,472.5 L1042.4,473.0 L1043.9,473.5 L1045.3,474.0 L1046.6,474.6 L1048.0,475.2 L1049.4,475.9 L1050.7,476.5 L1052.0,477.2 L1053.3,478.0 L1054.6,478.7 L1055.9,479.5 L1057.2,480.3 L1058.5,481.1 L1059.7,481.9 L1061.0,482.7 L1062.2,483.6 L1063.4,484.4 L1064.7,485.3 L1065.9,486.1 L1067.1,487.0 L1068.3,487.9 L1069.6,488.7 L1070.8,489.6 L1072.0,490.5 L1073.2,491.4 L1074.4,492.3 L1075.6,493.2 L1076.8,494.1 L1078.0,495.0 L1079.2,495.9 L1080.3,496.9 L1081.5,497.8 L1082.7,498.7 L1083.8,499.7 L1085.0,500.6 L1086.1,501.6 L1087.3,502.5 L1088.4,503.5 L1089.6,504.5 L1090.7,505.5 L1091.8,506.5 L1092.9,507.5 L1094.0,508.5 L1095.2,509.5 L1096.3,510.5 L1097.4,511.5 L1098.5,512.6 L1099.5,513.6 L1100.6,514.6 L1101.7,515.6 L1102.8,516.7 L1103.9,517.7 L1105.0,518.7 L1106.1,519.7 L1107.3,520.7 L1108.4,521.7 L1109.5,522.7 L1110.6,523.7 L1111.7,524.7 L1112.8,525.7 L1113.9,526.8 L1115.0,527.8 L1116.0,528.9 L1117.0,530.0 L1118.0,531.1 L1119.0,532.3 L1119.9,533.5 L1120.8,534.6 L1121.8,535.8 L1122.7,537.0 L1123.6,538.2 L1124.6,539.3 L1125.5,540.5 L1126.5,541.6 L1127.5,542.7 L1128.6,543.8 L1129.7,544.8 L1130.8,545.8 L1131.9,546.8 L1133.1,547.7 L1134.3,548.6 L1135.5,549.5 L1136.7,550.5 L1137.8,551.4 L1139.0,552.3 L1140.1,553.3 L1141.3,554.3 L1142.4,555.3 L1143.5,556.3 L1144.6,557.3 L1145.7,558.4 L1146.8,559.4 L1147.8,560.5 L1148.9,561.5 L1150.0,562.6 L1151.0,563.6 L1152.1,564.7 L1153.1,565.7 L1154.2,566.8 L1155.3,567.9 L1156.3,568.9 L1157.4,570.0 L1158.5,571.0 L1159.5,572.1 L1160.6,573.1 L1161.7,574.2 L1162.7,575.2 L1163.8,576.3 L1164.9,577.3 L1165.9,578.4 L1166.9,579.5 L1168.0,580.6 L1169.0,581.7 L1170.0,582.8 L1171.0,583.9 L1172.0,585.0 L1173.0,586.1 L1174.0,587.2 L1175.0,588.4 L1175.9,589.5 L1176.9,590.7 L1177.8,591.9 L1178.8,593.0 L1179.7,594.2 L1180.6,595.4 L1181.5,596.6 L1182.4,597.8 L1183.3,599.0 L1184.2,600.2 L1185.0,601.5 L1185.9,602.7 L1186.7,603.9 L1187.5,605.2 L1188.3,606.5 L1189.1,607.7 L1189.9,609.0 L1190.7,610.3 L1191.5,611.6 L1192.2,612.9 L1192.9,614.2 L1193.7,615.5 L1194.4,616.8 L1195.1,618.2 L1195.7,619.5 L1196.4,620.8 L1197.1,622.2 L1197.7,623.5 L1198.3,624.9 L1199.0,626.3 L1199.6,627.6 L1200.2,629.0 L1200.8,630.4 L1201.4,631.8 L1201.9,633.1 L1202.5,634.5 L1203.1,635.9 L1203.6,637.3 L1204.1,638.7 L1204.7,640.1 L1205.2,641.5 L1205.7,642.9 L1206.2,644.3 L1206.7,645.7 L1207.2,647.2 L1207.7,648.6 L1208.2,650.0 L1208.7,651.4 L1209.2,652.8 L1209.6,654.3 L1210.1,655.7 L1210.5,657.1 L1211.0,658.5 L1211.4,660.0 L1211.8,661.4 L1212.3,662.9 L1212.7,664.3 L1213.1,665.7 L1213.5,667.2 L1213.9,668.6 L1214.3,670.1 L1214.7,671.5 L1215.1,673.0 L1215.5,674.4 L1215.8,675.9 L1216.2,677.3 L1216.6,678.8 L1217.0,680.2 L1217.3,681.7 L1217.7,683.1 L1218.0,684.6 L1218.4,686.1 L1218.7,687.5 L1219.0,689.0 L1219.4,690.4 L1219.7,691.9 L1220.0,693.4 L1220.4,694.8 L1220.7,696.3 L1221.0,697.8 L1221.3,699.2 L1221.6,700.7 L1221.9,702.2 L1222.2,703.6 L1222.6,705.1 L1222.9,706.6 L1223.2,708.0 L1223.5,709.5 L1223.8,711.0 L1224.1,712.4 L1224.3,713.9 L1224.6,715.4 L1224.9,716.8 L1225.2,718.3 L1225.5,719.8 L1225.8,721.3 L1226.1,722.7 L1226.4,724.2 L1226.6,725.7 L1226.9,727.1 L1227.2,728.6 L1227.5,730.1 L1227.8,731.6 L1228.0,733.0 L1228.3,734.5 L1228.6,736.0 L1228.9,737.5 L1229.1,738.9 L1229.4,740.4 L1229.7,741.9 L1229.9,743.4 L1230.2,744.8 L1230.5,746.3 L1230.8,747.8 L1231.0,749.3 L1231.3,750.7 L1231.6,752.2 L1231.9,753.7 L1232.1,755.1 L1232.4,756.6 L1232.7,758.1 L1232.9,759.6 L1233.2,761.0 L1233.5,762.5 L1233.8,764.0 L1234.1,765.5 L1234.3,766.9 L1234.6,768.4 L1234.9,769.9 L1235.2,771.4 L1235.5,772.8 L1235.8,774.3 L1236.0,775.8 L1236.3,777.2 L1236.6,778.7 L1236.9,780.2 L1237.2,781.6 L1237.5,783.1 L1237.8,784.6 L1238.2,786.0 L1238.5,787.5 L1238.8,789.0 L1239.1,790.4 L1239.5,791.9 L1239.8,793.4 L1240.1,794.8 L1240.5,796.3 L1240.9,797.7 L1241.2,799.2 L1241.6,800.6 L1242.0,802.1 L1242.3,803.5 L1242.7,805.0 L1243.1,806.4 L1243.5,807.9 L1243.9,809.3 L1244.4,810.8 L1244.8,812.2 L1245.2,813.6 L1245.7,815.1 L1246.1,816.5 L1246.6,817.9 L1247.0,819.3 L1247.5,820.8 L1248.0,822.2 L1248.5,823.6 L1249.0,825.0 L1249.5,826.4 L1250.1,827.8 L1250.6,829.2 L1251.2,830.6 L1251.7,832.0 L1252.4,833.4 L1253.0,834.7 L1253.7,836.0 L1254.4,837.3 L1255.2,838.6 L1256.1,839.8 L1257.0,841.0 L1258.0,842.1 L1259.1,843.2 L1260.3,844.1 L1261.5,845.0 L1262.7,845.8 L1264.0,846.5 L1265.4,847.2 L1266.7,847.9 L1268.1,848.5 L1269.4,849.1 L1270.8,849.8 L1272.2,850.4 L1273.6,851.0 L1274.9,851.6 L1276.3,852.2 L1277.6,852.9 L1279.0,853.6 L1280.3,854.2 L1281.6,854.9 L1283.0,855.6 L1284.3,856.3 L1285.7,856.9 L1287.0,857.6 L1288.4,858.2 L1289.7,858.8 L1291.1,859.4 L1292.5,860.0 L1293.9,860.6 L1295.3,861.1 L1296.7,861.7 L1298.1,862.2 L1299.5,862.7 L1300.9,863.2 L1302.3,863.7 L1303.7,864.2 L1305.2,864.6 L1306.6,865.1 L1308.0,865.5 L1309.5,865.9 L1310.9,866.3 L1312.4,866.7 L1313.8,867.1 L1315.3,867.5 L1316.7,867.8 L1318.2,868.2 L1319.6,868.5 L1321.1,868.8 L1322.6,869.1 L1324.0,869.5 L1325.5,869.7 L1327.0,870.0 L1328.5,870.3 L1329.9,870.6 L1331.4,870.8 L1332.9,871.1 L1334.4,871.3 L1335.8,871.5 L1337.3,871.7 L1338.8,872.0 L1340.3,872.2 L1341.8,872.4 L1343.3,872.6 L1344.8,872.8 L1346.2,872.9 L1347.7,873.1 L1349.2,873.3 L1350.7,873.4 L1352.2,873.6 L1353.7,873.8 L1355.2,873.9 L1356.7,874.1 L1358.2,874.2 L1359.7,874.4 L1361.2,874.5 L1362.6,874.6 L1364.1,874.8 L1365.6,874.9 L1367.1,875.0 L1368.6,875.1 L1370.1,875.3 L1371.6,875.4 L1373.1,875.5 L1374.6,875.6 L1376.1,875.8 L1377.6,875.9 L1379.1,876.0 L1380.6,876.1 L1382.1,876.2 L1383.6,876.4 L1385.1,876.5 L1386.6,876.6 L1388.0,876.7 L1389.5,876.9 L1391.0,877.0 L1392.5,877.1 L1394.0,877.3 L1395.5,877.4 L1397.0,877.6" fill="none" stroke="#ff0000" stroke-width="6" stroke-linejoin="round"/>
<path d="M128.8,1319.8 L129.2,1319.8 L130.7,1319.8 L132.2,1319.8 L133.7,1319.8 L135.2,1319.7 L136.7,1319.7 L138.2,1319.6 L139.7,1319.5 L141.2,1319.4 L142.7,1319.3 L143.1,1319.3M167.1,1317.2 L167.6,1317.1 L169.1,1317.0 L170.6,1316.9 L172.1,1316.8 L173.6,1316.8 L175.1,1316.7 L176.6,1316.6 L178.1,1316.5 L179.6,1316.4 L181.1,1316.4 L181.4,1316.4M206.2,1315.3 L206.5,1315.3 L208.0,1315.2 L209.5,1315.2 L211.0,1315.1 L212.5,1315.0 L214.0,1314.9 L215.5,1314.8 L217.0,1314.7 L218.5,1314.6 L219.7,1314.5M247.9,1310.9 L248.2,1310.8 L249.7,1310.5 L251.2,1310.2 L252.7,1309.9 L254.1,1309.6 L255.6,1309.3 L257.1,1309.0 L258.5,1308.7 L258.9,1308.7M285.6,1303.2 L285.9,1303.1 L287.4,1302.8 L288.9,1302.5 L290.4,1302.2 L291.8,1301.9 L293.3,1301.6 L294.8,1301.3 L296.2,1301.0 L297.7,1300.7 L299.2,1300.4 L299.4,1300.3M325.4,1294.7 L325.6,1294.7 L327.0,1294.4 L328.5,1294.0 L329.9,1293.7 L331.4,1293.3 L332.9,1293.0 L334.3,1292.6 L335.8,1292.3 L337.2,1291.9 L338.7,1291.6 L340.1,1291.2 L341.6,1290.9 L342.3,1290.7M365.4,1284.5 L365.8,1284.4 L367.2,1284.0 L368.6,1283.7 L370.1,1283.3 L371.5,1282.9 L373.0,1282.5 L374.4,1282.1 L375.9,1281.7 L377.3,1281.3 L378.8,1280.9 L379.7,1280.6M404.5,1274.3 L404.9,1274.2 L406.4,1273.9 L407.9,1273.6 L409.3,1273.2 L410.8,1272.9 L412.2,1272.5 L413.7,1272.1 L415.1,1271.7 L416.6,1271.3 L418.0,1270.9 L418.9,1270.6M442.6,1259.6 L442.9,1259.4 L444.2,1258.7 L445.5,1257.9 L446.8,1257.2 L448.1,1256.4 L449.4,1255.7 L450.7,1254.9 L452.0,1254.1 L453.3,1253.3 L454.4,1252.6M474.5,1239.0 L474.8,1238.8 L476.0,1237.9 L477.2,1237.0 L478.4,1236.1 L479.5,1235.1 L480.7,1234.2 L481.8,1233.2 L483.0,1232.2 L484.1,1231.2 L485.2,1230.2 L486.2,1229.2M507.0,1202.7 L507.2,1202.4 L508.1,1201.2 L509.1,1200.1 L510.0,1198.9 L511.0,1197.8 L511.9,1196.6 L512.9,1195.4 L513.8,1194.3 L514.8,1193.1 L515.7,1191.9 L516.1,1191.4M534.3,1166.6 L534.3,1166.6 L535.3,1165.4 L536.3,1164.3 L537.3,1163.2 L538.3,1162.1 L539.4,1161.0 L540.4,1159.9 L541.4,1158.8 L542.2,1158.0M565.6,1140.3 L565.6,1140.3 L567.1,1140.1 L568.6,1140.0 L570.1,1139.9 L571.6,1139.9 L573.1,1140.0 L574.6,1140.2 L576.1,1140.4 L577.6,1140.7 L579.0,1141.1 L580.5,1141.5 L581.8,1141.9M606.5,1155.7 L606.7,1155.8 L607.9,1156.6 L609.2,1157.5 L610.4,1158.3 L611.7,1159.1 L612.9,1159.9 L614.2,1160.7 L615.5,1161.5 L616.7,1162.3 L617.0,1162.5M643.5,1178.9 L643.5,1178.9 L644.8,1179.7 L646.1,1180.5 L647.3,1181.3 L648.6,1182.1 L649.9,1182.9 L651.1,1183.6 L652.4,1184.4 L653.7,1185.2 L655.0,1186.0 L655.3,1186.3M679.2,1202.0 L679.6,1202.3 L680.8,1203.1 L682.0,1204.0 L683.2,1204.9 L684.5,1205.8 L685.7,1206.6 L686.9,1207.5 L688.1,1208.4 L689.3,1209.3 L690.5,1210.2 L691.0,1210.5M714.8,1229.3 L714.8,1229.4 L716.0,1230.3 L717.1,1231.3 L718.3,1232.3 L719.4,1233.2 L720.6,1234.2 L721.7,1235.2 L722.8,1236.2 L724.0,1237.1 L725.1,1238.1 L726.0,1238.9M748.6,1257.1 L748.8,1257.2 L750.1,1258.0 L751.4,1258.8 L752.7,1259.5 L754.0,1260.3 L755.3,1261.0 L756.6,1261.7 L757.9,1262.5 L759.2,1263.2 L760.5,1263.9 L760.6,1264.0M785.8,1278.0 L785.8,1278.0 L787.2,1278.6 L788.6,1279.1 L790.0,1279.7 L791.4,1280.2 L792.9,1280.7 L794.3,1281.1 L795.7,1281.6 L797.1,1282.1 L798.5,1282.6 L800.0,1283.1 L800.2,1283.1M827.1,1293.1 L827.1,1293.1 L828.6,1293.5 L830.0,1293.9 L831.5,1294.3 L832.9,1294.7 L834.4,1295.0 L835.9,1295.3 L837.3,1295.6 L837.6,1295.7M865.8,1300.4 L865.9,1300.4 L867.4,1300.6 L868.9,1300.7 L870.4,1300.9 L871.9,1301.1 L873.4,1301.2 L874.9,1301.4 L876.4,1301.5 L877.9,1301.6 L879.3,1301.8 L880.8,1301.9 L882.3,1302.0 L882.9,1302.1M908.3,1303.5 L908.8,1303.5 L910.3,1303.6 L911.8,1303.6 L913.3,1303.7 L914.8,1303.7 L916.3,1303.8 L917.8,1303.8 L919.3,1303.8 L920.8,1303.9 L922.3,1303.9 L922.3,1303.9M947.2,1304.6 L947.3,1304.6 L948.8,1304.6 L950.3,1304.7 L951.8,1304.7 L953.3,1304.8 L954.8,1304.8 L956.3,1304.9 L957.8,1304.9 L959.2,1305.0 L960.7,1305.1 L962.2,1305.1 L963.7,1305.2 L963.8,1305.2M987.1,1306.7 L987.2,1306.7 L988.7,1306.9 L990.2,1307.0 L991.7,1307.2 L993.2,1307.3 L994.6,1307.5 L996.1,1307.6 L997.6,1307.8 L999.1,1308.0 L1000.6,1308.2 L1002.1,1308.4 L1002.6,1308.4M1029.1,1312.4 L1029.3,1312.5 L1030.8,1312.7 L1032.2,1312.9 L1033.7,1313.2 L1035.2,1313.4 L1036.7,1313.6 L1038.2,1313.8 L1039.7,1314.0 L1041.1,1314.2 L1042.6,1314.4 L1043.0,1314.5M1068.3,1317.1 L1068.5,1317.1 L1070.0,1317.2 L1071.5,1317.3 L1073.0,1317.4 L1074.5,1317.5 L1076.0,1317.6 L1077.5,1317.7 L1078.9,1317.8 L1080.4,1317.9 L1081.9,1318.0 L1083.4,1318.1 L1084.3,1318.1M1112.9,1319.3 L1112.9,1319.3 L1114.4,1319.4 L1115.9,1319.4 L1117.4,1319.5 L1118.9,1319.5 L1120.4,1319.6 L1121.9,1319.6 L1123.4,1319.7 L1124.2,1319.7M1149.3,1320.8 L1149.4,1320.8 L1150.9,1320.9 L1152.4,1321.0 L1153.9,1321.1 L1155.4,1321.1 L1156.8,1321.2 L1158.3,1321.3 L1159.8,1321.4 L1161.3,1321.5 L1162.8,1321.5 L1164.1,1321.6M1191.6,1323.3 L1191.8,1323.4 L1193.3,1323.5 L1194.8,1323.6 L1196.3,1323.7 L1197.8,1323.8 L1199.3,1323.9 L1200.8,1324.0 L1202.2,1324.1 L1203.7,1324.2 L1205.2,1324.3 L1206.7,1324.4 L1208.2,1324.5 L1209.3,1324.6M1233.1,1326.4 L1233.2,1326.4 L1234.6,1326.5 L1236.1,1326.6 L1237.6,1326.7 L1239.1,1326.8 L1240.6,1327.0 L1242.1,1327.1 L1243.6,1327.2 L1245.1,1327.3 L1246.6,1327.4 L1248.1,1327.6 L1249.6,1327.7 L1251.1,1327.8 L1252.6,1327.9 L1254.1,1328.0 L1255.6,1328.2 L1257.1,1328.3 L1258.6,1328.4 L1259.8,1328.5M1285.7,1330.6 L1286.0,1330.6 L1287.5,1330.7 L1289.0,1330.8 L1290.5,1330.9 L1292.0,1331.0 L1293.4,1331.1 L1294.9,1331.2 L1296.4,1331.3 L1297.9,1331.4 L1299.4,1331.5 L1299.9,1331.6M1325.8,1332.9 L1325.9,1332.9 L1327.4,1332.9 L1328.9,1333.0 L1330.4,1333.0 L1331.9,1333.1 L1333.4,1333.1 L1334.9,1333.1 L1336.4,1333.2 L1337.9,1333.2 L1339.4,1333.2 L1340.9,1333.2 L1342.4,1333.2 L1342.7,1333.2M1364.5,1333.2 L1364.9,1333.2 L1366.4,1333.3 L1367.9,1333.3 L1369.4,1333.4 L1370.9,1333.5 L1372.4,1333.6 L1373.9,1333.7 L1375.3,1333.8 L1376.8,1334.0 L1378.3,1334.2 L1378.7,1334.2" fill="none" stroke="#0000ff" stroke-width="6" stroke-linecap="round" stroke-linejoin="round"/>
<path d="M126.2,1312.0 L127.5,1311.3 L128.9,1310.6 L130.2,1310.0 L131.6,1309.4 L133.0,1308.8 L134.4,1308.3 L135.8,1307.8 L137.2,1307.3 L138.7,1306.9 L140.1,1306.5 L141.6,1306.1 L143.0,1305.8 L144.5,1305.5 L146.0,1305.2 L147.4,1304.9 L148.9,1304.7 L150.4,1304.5 L151.9,1304.3 L153.4,1304.2 L154.9,1304.0 L156.4,1303.9 L157.9,1303.8 L159.4,1303.7 L160.9,1303.7 L162.4,1303.6 L163.9,1303.6 L165.4,1303.6 L166.9,1303.5 L168.4,1303.5 L169.9,1303.5 L171.4,1303.5 L172.9,1303.6 L174.4,1303.6 L175.9,1303.6 L177.4,1303.6 L178.8,1303.7 L180.3,1303.7 L181.8,1303.7 L183.3,1303.8 L184.8,1303.8 L186.3,1303.8 L187.8,1303.9 L189.3,1303.9 L190.8,1304.0 L192.3,1304.0 L193.8,1304.0 L195.3,1304.1 L196.8,1304.1 L198.3,1304.1 L199.8,1304.2 L201.3,1304.2 L202.8,1304.3 L204.3,1304.3 L205.8,1304.3 L207.3,1304.4 L208.8,1304.4 L210.3,1304.4 L211.8,1304.5 L213.3,1304.5 L214.8,1304.5 L216.3,1304.5 L217.8,1304.6 L219.3,1304.6 L220.8,1304.6 L222.3,1304.6 L223.8,1304.6 L225.3,1304.7 L226.8,1304.7 L228.3,1304.7 L229.8,1304.7 L231.3,1304.7 L232.8,1304.7 L234.3,1304.7 L235.8,1304.7 L237.3,1304.7 L238.8,1304.7 L240.3,1304.7 L241.8,1304.6 L243.3,1304.6 L244.8,1304.6 L246.3,1304.6 L247.8,1304.5 L249.3,1304.5 L250.8,1304.5 L252.3,1304.4 L253.8,1304.4 L255.3,1304.3 L256.8,1304.2 L258.3,1304.2 L259.8,1304.1 L261.3,1304.1 L262.8,1304.0 L264.3,1303.9 L265.8,1303.8 L267.3,1303.7 L268.8,1303.7 L270.3,1303.6 L271.8,1303.5 L273.3,1303.4 L274.8,1303.3 L276.3,1303.2 L277.8,1303.0 L279.3,1302.9 L280.7,1302.8 L282.2,1302.7 L283.7,1302.6 L285.2,1302.4 L286.7,1302.3 L288.2,1302.2 L289.7,1302.0 L291.2,1301.9 L292.7,1301.7 L294.2,1301.6 L295.7,1301.4 L297.2,1301.3 L298.7,1301.1 L300.1,1301.0 L301.6,1300.8 L303.1,1300.6 L304.6,1300.4 L306.1,1300.3 L307.6,1300.1 L309.1,1299.9 L310.6,1299.7 L312.1,1299.5 L313.5,1299.3 L315.0,1299.1 L316.5,1298.9 L318.0,1298.7 L319.5,1298.5 L321.0,1298.3 L322.5,1298.1 L323.9,1297.8 L325.4,1297.6 L326.9,1297.4 L328.4,1297.2 L329.9,1296.9 L331.3,1296.7 L332.8,1296.4 L334.3,1296.2 L335.8,1296.0 L337.3,1295.7 L338.7,1295.5 L340.2,1295.2 L341.7,1294.9 L343.2,1294.7 L344.6,1294.4 L346.1,1294.1 L347.6,1293.9 L349.1,1293.6 L350.5,1293.3 L352.0,1293.0 L353.5,1292.7 L355.0,1292.4 L356.4,1292.2 L357.9,1291.9 L359.4,1291.6 L360.8,1291.3 L362.3,1290.9 L363.8,1290.6 L365.2,1290.3 L366.7,1290.0 L368.2,1289.7 L369.6,1289.3 L371.1,1289.0 L372.5,1288.6 L374.0,1288.3 L375.5,1287.9 L376.9,1287.6 L378.4,1287.2 L379.8,1286.8 L381.3,1286.5 L382.7,1286.1 L384.2,1285.7 L385.6,1285.3 L387.1,1284.9 L388.5,1284.5 L389.9,1284.1 L391.4,1283.6 L392.8,1283.2 L394.2,1282.8 L395.7,1282.3 L397.1,1281.9 L398.5,1281.4 L400.0,1281.0 L401.4,1280.5 L402.8,1280.0 L404.2,1279.5 L405.6,1279.0 L407.1,1278.5 L408.5,1278.0 L409.9,1277.5 L411.3,1277.0 L412.7,1276.4 L414.1,1275.9 L415.5,1275.3 L416.9,1274.8 L418.2,1274.2 L419.6,1273.6 L421.0,1273.0 L422.4,1272.4 L423.7,1271.8 L425.1,1271.2 L426.5,1270.6 L427.8,1269.9 L429.2,1269.3 L430.5,1268.6 L431.9,1268.0 L433.2,1267.3 L434.5,1266.6 L435.9,1265.9 L437.2,1265.2 L438.5,1264.5 L439.8,1263.7 L441.1,1263.0 L442.4,1262.2 L443.7,1261.4 L444.9,1260.6 L446.2,1259.8 L447.5,1259.0 L448.7,1258.2 L449.9,1257.3 L451.1,1256.4 L452.4,1255.5 L453.5,1254.6 L454.7,1253.7 L455.9,1252.8 L457.0,1251.8 L458.2,1250.8 L459.3,1249.8 L460.4,1248.8 L461.5,1247.8 L462.5,1246.7 L463.6,1245.6 L464.6,1244.5 L465.6,1243.4 L466.6,1242.3 L467.6,1241.2 L468.5,1240.0 L469.4,1238.8 L470.4,1237.6 L471.2,1236.4 L472.1,1235.2 L473.0,1234.0 L473.8,1232.7 L474.6,1231.5 L475.4,1230.2 L476.2,1228.9 L477.0,1227.6 L477.7,1226.3 L478.5,1225.0 L479.2,1223.7 L479.9,1222.4 L480.6,1221.1 L481.3,1219.7 L482.0,1218.4 L482.6,1217.1 L483.3,1215.7 L484.0,1214.4 L484.6,1213.0 L485.2,1211.6 L485.8,1210.3 L486.5,1208.9 L487.1,1207.5 L487.7,1206.2 L488.3,1204.8 L488.9,1203.4 L489.4,1202.0 L490.0,1200.6 L490.6,1199.2 L491.1,1197.9 L491.7,1196.5 L492.2,1195.1 L492.7,1193.7 L493.3,1192.3 L493.8,1190.9 L494.3,1189.5 L494.8,1188.0 L495.3,1186.6 L495.8,1185.2 L496.3,1183.8 L496.8,1182.4 L497.3,1181.0 L497.8,1179.5 L498.3,1178.1 L498.7,1176.7 L499.2,1175.3 L499.7,1173.8 L500.1,1172.4 L500.6,1171.0 L501.0,1169.6 L501.5,1168.1 L501.9,1166.7 L502.3,1165.3 L502.8,1163.8 L503.2,1162.4 L503.6,1160.9 L504.1,1159.5 L504.5,1158.1 L504.9,1156.6 L505.3,1155.2 L505.7,1153.8 L506.1,1152.3 L506.6,1150.9 L507.0,1149.4 L507.4,1148.0 L507.8,1146.5 L508.2,1145.1 L508.6,1143.7 L509.0,1142.2 L509.4,1140.8 L509.8,1139.3 L510.2,1137.9 L510.6,1136.4 L511.0,1135.0 L511.4,1133.6 L511.8,1132.1 L512.2,1130.7 L512.7,1129.2 L513.1,1127.8 L513.5,1126.3 L513.9,1124.9 L514.3,1123.5 L514.7,1122.0 L515.1,1120.6 L515.5,1119.1 L515.9,1117.7 L516.4,1116.2 L516.8,1114.8 L517.2,1113.4 L517.6,1111.9 L518.1,1110.5 L518.5,1109.1 L518.9,1107.6 L519.4,1106.2 L519.8,1104.8 L520.2,1103.3 L520.7,1101.9 L521.1,1100.5 L521.6,1099.0 L522.0,1097.6 L522.5,1096.2 L523.0,1094.7 L523.4,1093.3 L523.9,1091.9 L524.3,1090.5 L524.8,1089.0 L525.3,1087.6 L525.8,1086.2 L526.3,1084.8 L526.7,1083.4 L527.2,1081.9 L527.7,1080.5 L528.2,1079.1 L528.7,1077.7 L529.2,1076.3 L529.8,1074.9 L530.3,1073.5 L530.8,1072.1 L531.3,1070.7 L531.9,1069.3 L532.4,1067.9 L532.9,1066.5 L533.5,1065.1 L534.0,1063.7 L534.6,1062.3 L535.2,1060.9 L535.7,1059.5 L536.3,1058.1 L536.8,1056.7 L537.4,1055.3 L538.0,1054.0 L538.6,1052.6 L539.2,1051.2 L539.8,1049.8 L540.4,1048.5 L541.1,1047.1 L541.8,1045.8 L542.6,1044.5 L543.4,1043.3 L544.4,1042.1 L545.4,1041.0 L546.5,1040.1 L547.7,1039.2 L549.1,1038.5 L550.5,1038.0 L552.0,1037.8 L553.4,1038.0 L554.9,1038.5 L556.2,1039.3 L557.4,1040.1 L558.5,1041.1 L559.5,1042.2 L560.5,1043.4 L561.3,1044.7 L562.1,1046.0 L562.7,1047.3 L563.4,1048.7 L563.9,1050.0 L564.4,1051.4 L565.0,1052.9 L565.4,1054.3 L565.9,1055.7 L566.4,1057.1 L566.9,1058.5 L567.5,1059.9 L568.0,1061.3 L568.5,1062.7 L569.0,1064.1 L569.5,1065.5 L570.1,1066.9 L570.6,1068.3 L571.1,1069.7 L571.7,1071.1 L572.2,1072.5 L572.8,1073.9 L573.3,1075.3 L573.8,1076.7 L574.4,1078.1 L574.9,1079.5 L575.5,1080.9 L576.0,1082.3 L576.5,1083.7 L577.1,1085.1 L577.6,1086.5 L578.1,1088.0 L578.6,1089.4 L579.1,1090.8 L579.7,1092.2 L580.2,1093.6 L580.7,1095.0 L581.2,1096.4 L581.7,1097.8 L582.2,1099.2 L582.7,1100.6 L583.2,1102.1 L583.7,1103.5 L584.2,1104.9 L584.8,1106.3 L585.3,1107.7 L585.9,1109.1 L586.4,1110.5 L587.0,1111.8 L587.6,1113.2 L588.2,1114.6 L588.8,1116.0 L589.4,1117.3 L590.0,1118.7 L590.7,1120.0 L591.3,1121.4 L592.0,1122.7 L592.7,1124.0 L593.5,1125.4 L594.2,1126.6 L595.0,1127.9 L595.8,1129.2 L596.6,1130.5 L597.5,1131.7 L598.3,1132.9 L599.2,1134.1 L600.1,1135.3 L601.1,1136.5 L602.0,1137.6 L603.0,1138.8 L604.1,1139.8 L605.1,1140.9 L606.2,1141.9 L607.3,1142.9 L608.5,1143.9 L609.7,1144.8 L610.9,1145.6 L612.2,1146.4 L613.5,1147.2 L614.8,1147.8 L616.2,1148.4 L617.6,1148.9 L619.1,1149.3 L620.6,1149.6 L622.1,1149.7 L623.5,1149.8 L625.0,1149.8 L626.5,1149.7 L628.0,1149.6 L629.5,1149.4 L631.0,1149.2 L632.5,1148.9 L633.9,1148.6 L635.4,1148.3 L636.9,1147.9 L638.3,1147.6 L639.8,1147.3 L641.3,1147.0 L642.7,1146.7 L644.2,1146.4 L645.7,1146.2 L647.2,1146.0 L648.7,1145.8 L650.2,1145.7 L651.7,1145.7 L653.2,1145.7 L654.7,1145.9 L656.1,1146.1 L657.6,1146.5 L659.0,1146.9 L660.4,1147.4 L661.8,1148.0 L663.2,1148.6 L664.5,1149.3 L665.8,1150.0 L667.1,1150.8 L668.4,1151.5 L669.7,1152.3 L671.0,1153.0 L672.3,1153.8 L673.6,1154.5 L674.9,1155.2 L676.3,1155.9 L677.6,1156.6 L679.0,1157.3 L680.3,1157.9 L681.7,1158.5 L683.0,1159.1 L684.4,1159.7 L685.8,1160.3 L687.2,1160.9 L688.6,1161.4 L690.0,1162.0 L691.4,1162.5 L692.8,1163.0 L694.2,1163.5 L695.6,1164.0 L697.1,1164.5 L698.5,1164.9 L699.9,1165.4 L701.3,1165.8 L702.8,1166.3 L704.2,1166.7 L705.6,1167.1 L707.1,1167.5 L708.5,1167.9 L710.0,1168.3 L711.4,1168.7 L712.9,1169.1 L714.3,1169.5 L715.8,1169.9 L717.2,1170.3 L718.7,1170.7 L720.1,1171.0 L721.6,1171.4 L723.0,1171.8 L724.5,1172.2 L725.9,1172.5 L727.4,1172.9 L728.8,1173.2 L730.3,1173.6 L731.8,1173.9 L733.2,1174.2 L734.7,1174.5 L736.2,1174.8 L737.7,1175.0 L739.1,1175.3 L740.6,1175.5 L742.1,1175.7 L743.6,1175.9 L745.1,1176.0 L746.6,1176.1 L748.1,1176.2 L749.6,1176.3 L751.1,1176.3 L752.6,1176.3 L754.1,1176.3 L755.6,1176.2 L757.1,1176.1 L758.6,1176.0 L760.1,1175.8 L761.5,1175.6 L763.0,1175.4 L764.5,1175.1 L766.0,1174.8 L767.4,1174.5 L768.9,1174.2 L770.4,1173.9 L771.8,1173.5 L773.3,1173.1 L774.7,1172.7 L776.1,1172.2 L777.6,1171.7 L779.0,1171.2 L780.4,1170.7 L781.8,1170.2 L783.2,1169.6 L784.5,1169.1 L785.9,1168.5 L787.3,1167.8 L788.6,1167.2 L790.0,1166.6 L791.3,1165.9 L792.7,1165.2 L794.0,1164.5 L795.3,1163.8 L796.6,1163.1 L798.0,1162.4 L799.3,1161.6 L800.6,1160.9 L801.8,1160.1 L803.1,1159.3 L804.4,1158.6 L805.7,1157.8 L807.0,1157.0 L808.3,1156.2 L809.5,1155.4 L810.8,1154.6 L812.1,1153.8 L813.3,1153.0 L814.6,1152.2 L815.9,1151.4 L817.1,1150.6 L818.4,1149.8 L819.7,1149.0 L820.9,1148.2 L822.2,1147.4 L823.5,1146.6 L824.7,1145.8 L826.0,1145.0 L827.2,1144.2 L828.5,1143.3 L829.8,1142.5 L831.0,1141.7 L832.3,1140.9 L833.5,1140.0 L834.8,1139.2 L836.0,1138.4 L837.2,1137.5 L838.5,1136.7 L839.7,1135.8 L840.9,1135.0 L842.2,1134.1 L843.4,1133.3 L844.6,1132.4 L845.8,1131.5 L847.1,1130.6 L848.3,1129.8 L849.5,1128.9 L850.7,1128.0 L851.9,1127.1 L853.1,1126.2 L854.3,1125.3 L855.5,1124.4 L856.7,1123.5 L857.8,1122.5 L859.0,1121.6 L860.2,1120.7 L861.4,1119.7 L862.5,1118.8 L863.7,1117.8 L864.8,1116.8 L866.0,1115.9 L867.1,1114.9 L868.2,1113.9 L869.4,1112.9 L870.5,1111.9 L871.6,1110.9 L872.7,1109.9 L873.8,1108.9 L874.9,1107.9 L876.0,1106.8 L877.0,1105.8 L878.1,1104.7 L879.2,1103.7 L880.2,1102.6 L881.3,1101.5 L882.3,1100.4 L883.3,1099.3 L884.3,1098.2 L885.3,1097.1 L886.3,1096.0 L887.3,1094.9 L888.3,1093.8 L889.3,1092.6 L890.3,1091.5 L891.2,1090.3 L892.2,1089.2 L893.2,1088.0 L894.1,1086.9 L895.0,1085.7 L896.0,1084.5 L896.9,1083.3 L897.8,1082.1 L898.7,1080.9 L899.6,1079.7 L900.5,1078.5 L901.4,1077.3 L902.3,1076.1 L903.1,1074.9 L904.0,1073.7 L904.9,1072.5 L905.7,1071.2 L906.6,1070.0 L907.4,1068.8 L908.3,1067.5 L909.1,1066.3 L909.9,1065.0 L910.8,1063.8 L911.6,1062.5 L912.4,1061.3 L913.2,1060.0 L914.0,1058.7 L914.8,1057.5 L915.6,1056.2 L916.4,1054.9 L917.2,1053.7 L918.0,1052.4 L918.8,1051.1 L919.6,1049.8 L920.3,1048.5 L921.1,1047.2 L921.9,1046.0 L922.6,1044.7 L923.4,1043.4 L924.1,1042.1 L924.9,1040.8 L925.6,1039.5 L926.4,1038.2 L927.1,1036.9 L927.8,1035.6 L928.6,1034.2 L929.3,1032.9 L930.0,1031.6 L930.8,1030.3 L931.5,1029.0 L932.2,1027.7 L932.9,1026.4 L933.6,1025.0 L934.3,1023.7 L935.0,1022.4 L935.7,1021.1 L936.4,1019.7 L937.1,1018.4 L937.8,1017.1 L938.5,1015.7 L939.2,1014.4 L939.9,1013.1 L940.5,1011.7 L941.2,1010.4 L941.9,1009.1 L942.6,1007.7 L943.2,1006.4 L943.9,1005.0 L944.6,1003.7 L945.3,1002.4 L945.9,1001.0 L946.6,999.7 L947.2,998.3 L947.9,997.0 L948.6,995.6 L949.2,994.3 L949.9,992.9 L950.5,991.6 L951.2,990.2 L951.8,988.9 L952.5,987.5 L953.1,986.2 L953.8,984.8 L954.4,983.5 L955.0,982.1 L955.7,980.8 L956.3,979.4 L957.0,978.1 L957.6,976.7 L958.3,975.3 L958.9,974.0 L959.5,972.6 L960.2,971.3 L960.8,969.9 L961.4,968.6 L962.1,967.2 L962.7,965.8 L963.4,964.5 L964.0,963.1 L964.6,961.8 L965.3,960.4 L965.9,959.1 L966.5,957.7 L967.2,956.3 L967.8,955.0 L968.4,953.6 L969.1,952.3 L969.7,950.9 L970.4,949.5 L971.0,948.2 L971.6,946.8 L972.3,945.5 L972.9,944.1 L973.6,942.8 L974.2,941.4 L974.9,940.1 L975.5,938.7 L976.2,937.4 L976.8,936.0 L977.5,934.7 L978.2,933.4 L978.9,932.0 L979.5,930.7 L980.2,929.3 L980.9,928.0 L981.6,926.7 L982.3,925.4 L983.1,924.1 L983.8,922.7 L984.5,921.4 L985.3,920.1 L986.0,918.8 L986.8,917.5 L987.5,916.3 L988.3,915.0 L989.1,913.7 L989.9,912.4 L990.7,911.2 L991.5,909.9 L992.4,908.7 L993.2,907.4 L994.1,906.2 L995.0,905.0 L995.9,903.8 L996.8,902.6 L997.7,901.4 L998.7,900.3 L999.7,899.2 L1000.7,898.1 L1001.8,897.1 L1002.9,896.1 L1004.1,895.1 L1005.3,894.2 L1006.5,893.4 L1007.8,892.6 L1009.1,891.9 L1010.5,891.2 L1011.9,890.7 L1013.3,890.2 L1014.7,889.8 L1016.2,889.5 L1017.7,889.4 L1019.2,889.5 L1020.7,889.6 L1022.2,890.0 L1023.6,890.4 L1025.0,891.0 L1026.3,891.6 L1027.6,892.4 L1028.9,893.2 L1030.1,894.1 L1031.3,895.0 L1032.5,895.9 L1033.6,896.9 L1034.7,897.9 L1035.8,899.0 L1036.8,900.0 L1037.8,901.1 L1038.9,902.2 L1039.8,903.4 L1040.8,904.5 L1041.7,905.7 L1042.7,906.9 L1043.6,908.1 L1044.5,909.3 L1045.3,910.5 L1046.2,911.7 L1047.0,913.0 L1047.9,914.2 L1048.7,915.5 L1049.5,916.7 L1050.3,918.0 L1051.1,919.3 L1051.9,920.6 L1052.6,921.8 L1053.4,923.1 L1054.2,924.4 L1054.9,925.7 L1055.7,927.0 L1056.4,928.3 L1057.2,929.6 L1057.9,930.9 L1058.6,932.2 L1059.4,933.5 L1060.1,934.8 L1060.8,936.2 L1061.5,937.5 L1062.2,938.8 L1063.0,940.1 L1063.7,941.4 L1064.4,942.8 L1065.0,944.1 L1065.7,945.4 L1066.4,946.8 L1067.1,948.1 L1067.8,949.4 L1068.5,950.8 L1069.2,952.1 L1069.8,953.4 L1070.5,954.8 L1071.2,956.1 L1071.9,957.4 L1072.5,958.8 L1073.2,960.1 L1073.9,961.5 L1074.5,962.8 L1075.2,964.2 L1075.9,965.5 L1076.5,966.9 L1077.2,968.2 L1077.9,969.5 L1078.5,970.9 L1079.2,972.2 L1079.8,973.6 L1080.5,974.9 L1081.2,976.3 L1081.8,977.6 L1082.5,979.0 L1083.2,980.3 L1083.8,981.6 L1084.5,983.0 L1085.2,984.3 L1085.8,985.7 L1086.5,987.0 L1087.2,988.4 L1087.8,989.7 L1088.5,991.0 L1089.2,992.4 L1089.9,993.7 L1090.6,995.0 L1091.2,996.4 L1091.9,997.7 L1092.6,999.0 L1093.3,1000.4 L1094.0,1001.7 L1094.7,1003.0 L1095.4,1004.3 L1096.1,1005.7 L1096.8,1007.0 L1097.5,1008.3 L1098.3,1009.6 L1099.0,1010.9 L1099.7,1012.2 L1100.4,1013.6 L1101.2,1014.9 L1101.9,1016.2 L1102.7,1017.5 L1103.4,1018.8 L1104.2,1020.1 L1104.9,1021.4 L1105.7,1022.6 L1106.5,1023.9 L1107.2,1025.2 L1108.0,1026.5 L1108.8,1027.8 L1109.6,1029.0 L1110.4,1030.3 L1111.2,1031.6 L1112.0,1032.8 L1112.8,1034.1 L1113.7,1035.3 L1114.5,1036.6 L1115.3,1037.8 L1116.2,1039.1 L1117.0,1040.3 L1117.9,1041.5 L1118.7,1042.8 L1119.6,1044.0 L1120.5,1045.2 L1121.4,1046.4 L1122.3,1047.6 L1123.2,1048.8 L1124.1,1050.0 L1125.1,1051.1 L1126.0,1052.3 L1127.0,1053.5 L1127.9,1054.6 L1128.9,1055.7 L1129.9,1056.9 L1130.9,1058.0 L1131.9,1059.1 L1132.9,1060.2 L1133.9,1061.3 L1135.0,1062.4 L1136.0,1063.4 L1137.1,1064.5 L1138.2,1065.5 L1139.3,1066.6 L1140.4,1067.6 L1141.5,1068.6 L1142.6,1069.6 L1143.8,1070.5 L1144.9,1071.5 L1146.1,1072.4 L1147.3,1073.4 L1148.5,1074.3 L1149.7,1075.2 L1150.9,1076.0 L1152.1,1076.9 L1153.4,1077.7 L1154.6,1078.6 L1155.9,1079.4 L1157.2,1080.1 L1158.5,1080.9 L1159.8,1081.6 L1161.1,1082.4 L1162.4,1083.1 L1163.7,1083.7 L1165.1,1084.4 L1166.4,1085.1 L1167.8,1085.7 L1169.1,1086.3 L1170.5,1087.0 L1171.9,1087.6 L1173.2,1088.2 L1174.6,1088.8 L1176.0,1089.4 L1177.3,1090.0 L1178.7,1090.7 L1180.1,1091.3 L1181.4,1091.9 L1182.8,1092.6 L1184.1,1093.2 L1185.5,1093.9 L1186.8,1094.6 L1188.1,1095.3 L1189.4,1096.0 L1190.7,1096.7 L1192.0,1097.5 L1193.3,1098.3 L1194.6,1099.1 L1195.8,1100.0 L1197.0,1100.9 L1198.2,1101.8 L1199.4,1102.7 L1200.5,1103.7 L1201.6,1104.7 L1202.7,1105.8 L1203.7,1106.9 L1204.7,1108.0 L1205.6,1109.1 L1206.6,1110.3 L1207.4,1111.5 L1208.3,1112.8 L1209.1,1114.0 L1209.9,1115.3 L1210.7,1116.6 L1211.4,1117.9 L1212.2,1119.2 L1212.9,1120.5 L1213.6,1121.8 L1214.2,1123.2 L1214.9,1124.5 L1215.5,1125.9 L1216.1,1127.3 L1216.7,1128.6 L1217.3,1130.0 L1217.8,1131.4 L1218.4,1132.8 L1219.0,1134.2 L1219.5,1135.6 L1220.0,1137.0 L1220.6,1138.4 L1221.1,1139.8 L1221.6,1141.2 L1222.1,1142.6 L1222.6,1144.0 L1223.1,1145.5 L1223.5,1146.9 L1224.0,1148.3 L1224.4,1149.8 L1224.9,1151.2 L1225.3,1152.6 L1225.7,1154.1 L1226.2,1155.5 L1226.6,1156.9 L1227.0,1158.4 L1227.4,1159.8 L1227.7,1161.3 L1228.1,1162.7 L1228.5,1164.2 L1228.8,1165.6 L1229.2,1167.1 L1229.5,1168.6 L1229.9,1170.0 L1230.2,1171.5 L1230.5,1172.9 L1230.9,1174.4 L1231.2,1175.9 L1231.5,1177.3 L1231.8,1178.8 L1232.1,1180.3 L1232.4,1181.7 L1232.7,1183.2 L1233.0,1184.7 L1233.3,1186.2 L1233.5,1187.6 L1233.8,1189.1 L1234.1,1190.6 L1234.4,1192.1 L1234.6,1193.5 L1234.9,1195.0 L1235.1,1196.5 L1235.4,1198.0 L1235.7,1199.4 L1235.9,1200.9 L1236.2,1202.4 L1236.4,1203.9 L1236.7,1205.4 L1236.9,1206.8 L1237.2,1208.3 L1237.4,1209.8 L1237.7,1211.3 L1237.9,1212.7 L1238.1,1214.2 L1238.4,1215.7 L1238.6,1217.2 L1238.9,1218.7 L1239.1,1220.1 L1239.3,1221.6 L1239.6,1223.1 L1239.8,1224.6 L1240.0,1226.1 L1240.3,1227.6 L1240.5,1229.0 L1240.8,1230.5 L1241.0,1232.0 L1241.2,1233.5 L1241.5,1235.0 L1241.7,1236.4 L1241.9,1237.9 L1242.2,1239.4 L1242.4,1240.9 L1242.7,1242.4 L1242.9,1243.8 L1243.1,1245.3 L1243.4,1246.8 L1243.6,1248.3 L1243.9,1249.8 L1244.1,1251.2 L1244.4,1252.7 L1244.6,1254.2 L1244.9,1255.7 L1245.1,1257.1 L1245.4,1258.6 L1245.6,1260.1 L1245.9,1261.6 L1246.1,1263.1 L1246.4,1264.5 L1246.7,1266.0 L1247.0,1267.5 L1247.3,1268.9 L1247.6,1270.4 L1247.9,1271.9 L1248.2,1273.3 L1248.6,1274.8 L1248.9,1276.3 L1249.3,1277.7 L1249.7,1279.1 L1250.2,1280.6 L1250.6,1282.0 L1251.1,1283.4 L1251.6,1284.8 L1252.2,1286.2 L1252.7,1287.6 L1253.3,1289.0 L1253.9,1290.4 L1254.6,1291.7 L1255.3,1293.0 L1256.0,1294.3 L1256.8,1295.6 L1257.6,1296.9 L1258.5,1298.1 L1259.4,1299.3 L1260.4,1300.5 L1261.4,1301.5 L1262.5,1302.6 L1263.6,1303.5 L1264.8,1304.4 L1266.1,1305.2 L1267.4,1305.9 L1268.8,1306.6 L1270.2,1307.1 L1271.6,1307.7 L1273.0,1308.1 L1274.4,1308.5 L1275.9,1308.9 L1277.4,1309.2 L1278.8,1309.5 L1280.3,1309.8 L1281.8,1310.1 L1283.3,1310.4 L1284.7,1310.6 L1286.2,1310.8 L1287.7,1311.1 L1289.2,1311.3 L1290.6,1311.6 L1292.1,1311.9 L1293.6,1312.2 L1295.1,1312.5 L1296.5,1312.8 L1298.0,1313.0 L1299.5,1313.3 L1300.9,1313.6 L1302.4,1313.9 L1303.9,1314.1 L1305.4,1314.3 L1306.9,1314.5 L1308.4,1314.6 L1309.9,1314.7 L1311.4,1314.7 L1312.9,1314.8 L1314.4,1314.7 L1315.9,1314.7 L1317.4,1314.6 L1318.9,1314.5 L1320.4,1314.4 L1321.8,1314.2 L1323.3,1314.1 L1324.8,1313.9 L1326.3,1313.7 L1327.8,1313.5 L1329.3,1313.2 L1330.8,1313.0 L1332.2,1312.8 L1333.7,1312.5 L1335.2,1312.3 L1336.7,1312.0 L1338.2,1311.8 L1339.6,1311.5 L1341.1,1311.3 L1342.6,1311.1 L1344.1,1310.8 L1345.6,1310.6 L1347.1,1310.4 L1348.5,1310.3 L1350.0,1310.1 L1351.5,1309.9 L1353.0,1309.8 L1354.5,1309.7 L1356.0,1309.6 L1357.5,1309.6 L1359.0,1309.6 L1360.5,1309.6 L1362.0,1309.7 L1363.5,1309.7 L1365.0,1309.9 L1366.5,1310.1 L1368.0,1310.3 L1369.4,1310.5 L1370.9,1310.8 L1372.4,1311.1 L1373.8,1311.5 L1375.3,1311.8 L1376.8,1312.1 L1378.2,1312.4 L1379.7,1312.7 L1381.2,1312.9 L1382.7,1313.1 L1384.2,1313.2 L1385.7,1313.2 L1387.2,1313.2 L1388.7,1313.1 L1390.2,1312.9 L1391.6,1312.6 L1393.1,1312.2 L1394.5,1311.7 L1395.9,1311.1 L1397.2,1310.4" fill="none" stroke="#0000ff" stroke-width="6" stroke-linejoin="round"/>
<path d="M127.9,1787.4 L128.6,1787.0 L129.3,1787.3 L130.1,1788.8 L131.1,1787.7 L132.1,1787.8 L132.8,1788.7 L133.5,1788.2 L134.3,1787.5 L135.1,1786.5 L135.9,1787.4 L136.6,1787.2 L137.3,1785.8 L138.0,1785.6 L138.7,1786.1 L139.4,1784.9 L140.1,1783.8 L140.9,1783.3 L141.7,1783.5 L142.5,1783.9 L143.4,1784.5 L144.2,1782.4 L145.1,1781.0 L146.1,1781.0 L147.0,1781.9 L148.0,1782.6 L148.8,1782.1 L149.6,1781.0 L150.4,1780.3 L151.2,1781.0 L152.1,1781.6 L152.9,1778.8 L153.8,1780.0 L154.7,1780.5 L155.6,1778.8 L156.5,1778.2 L157.5,1778.0 L158.4,1778.2 L159.3,1778.9 L160.3,1780.4 L161.2,1778.4 L162.2,1778.6 L163.1,1779.3 L164.0,1779.3 L165.0,1778.4 L165.9,1778.6 L166.8,1778.0 L167.7,1776.7 L168.6,1776.6 L169.5,1776.9 L170.3,1777.7 L171.2,1778.7 L172.0,1777.9 L172.9,1777.4 L173.7,1777.3 L174.6,1778.0 L175.5,1777.6 L176.3,1777.1 L177.2,1776.8 L178.1,1778.1 L178.9,1778.3 L179.8,1777.5 L180.7,1776.1 L181.7,1777.1 L182.6,1777.1 L183.6,1777.5 L184.6,1778.2 L185.6,1777.5 L186.6,1775.9 L187.4,1777.3 L188.2,1777.5 L189.0,1775.1 L189.9,1775.6 L190.7,1776.4 L191.6,1777.1 L192.5,1775.3 L193.3,1775.5 L194.2,1775.5 L195.1,1774.3 L196.0,1776.1 L197.0,1776.8 L197.9,1776.7 L198.8,1776.2 L199.7,1777.1 L200.7,1775.8 L201.6,1775.5 L202.5,1776.3 L203.5,1775.9 L204.4,1775.8 L205.3,1775.4 L206.3,1775.6 L207.2,1776.6 L208.1,1776.9 L209.1,1775.6 L210.0,1775.1 L210.9,1775.1 L211.8,1773.2 L212.7,1774.6 L213.6,1775.2 L214.5,1775.2 L215.4,1776.1 L216.3,1775.6 L217.2,1774.4 L218.0,1773.0 L218.9,1773.1 L219.8,1773.7 L220.7,1773.0 L221.6,1771.4 L222.5,1772.5 L223.4,1771.9 L224.3,1771.2 L225.2,1770.8 L226.1,1770.5 L227.0,1771.9 L227.9,1772.1 L228.8,1770.2 L229.7,1770.4 L230.6,1770.6 L231.5,1771.3 L232.3,1772.4 L233.2,1769.9 L234.1,1769.8 L235.0,1770.5 L235.9,1770.7 L236.8,1771.5 L237.7,1771.6 L238.6,1771.4 L239.5,1771.4 L240.4,1769.6 L241.3,1769.2 L242.2,1769.3 L243.1,1769.1 L244.0,1770.6 L244.9,1771.2 L245.8,1770.4 L246.7,1768.0 L247.6,1768.0 L248.5,1768.1 L249.4,1768.1 L250.3,1768.1 L251.2,1768.8 L252.1,1769.2 L253.0,1769.0 L253.9,1768.0 L254.8,1767.2 L255.7,1767.7 L256.6,1768.4 L257.5,1768.2 L258.4,1768.7 L259.3,1769.6 L260.2,1770.1 L261.1,1769.2 L262.0,1768.6 L262.9,1768.6 L263.8,1768.8 L264.7,1768.9 L265.6,1766.9 L266.5,1767.9 L267.4,1769.4 L268.3,1768.9 L269.2,1769.1 L270.1,1769.0 L271.0,1768.3 L271.9,1767.0 L272.8,1767.0 L273.7,1766.3 L274.6,1766.1 L275.5,1767.6 L276.4,1765.8 L277.3,1765.2 L278.2,1765.2 L279.1,1765.5 L280.0,1765.3 L280.9,1765.5 L281.8,1765.5 L282.7,1764.5 L283.6,1764.3 L284.5,1764.4 L285.4,1764.6 L286.3,1764.4 L287.2,1765.0 L288.1,1764.5 L289.0,1764.6 L289.9,1767.1 L290.8,1766.2 L291.8,1764.8 L292.7,1764.0 L293.7,1764.2 L294.6,1764.4 L295.6,1764.4 L296.5,1763.8 L297.5,1764.2 L298.4,1766.1 L299.4,1766.5 L300.4,1764.9 L301.3,1764.2 L302.3,1763.7 L303.2,1762.5 L304.1,1762.4 L305.1,1763.0 L306.0,1763.1 L306.9,1763.2 L307.8,1764.8 L308.7,1763.2 L309.5,1762.0 L310.4,1761.8 L311.2,1764.3 L312.0,1764.4 L312.8,1763.3 L313.6,1762.3 L314.3,1762.3 L315.1,1763.3 L315.8,1762.1 L316.5,1761.6 L317.5,1763.3 L318.5,1764.8 L319.4,1764.8 L320.3,1764.5 L321.1,1764.0 L321.9,1762.9 L322.7,1762.6 L323.5,1762.9 L324.3,1762.4 L325.1,1763.1 L326.0,1764.6 L326.8,1764.0 L327.7,1764.3 L328.7,1764.3 L329.7,1763.0 L330.5,1762.6 L331.3,1763.8 L332.2,1765.0 L333.0,1765.5 L333.9,1765.1 L334.7,1764.8 L335.6,1764.6 L336.5,1764.6 L337.4,1764.3 L338.3,1763.5 L339.2,1762.1 L340.1,1762.9 L341.0,1762.6 L341.9,1761.8 L342.9,1760.9 L343.8,1760.9 L344.8,1761.5 L345.7,1761.7 L346.6,1762.1 L347.6,1763.4 L348.5,1764.2 L349.5,1763.1 L350.4,1763.2 L351.3,1764.4 L352.1,1764.6 L353.0,1764.6 L353.9,1763.9 L354.7,1762.3 L355.6,1761.9 L356.5,1761.9 L357.3,1761.9 L358.2,1761.9 L359.1,1762.1 L360.0,1762.9 L360.9,1764.1 L361.8,1765.0 L362.7,1765.1 L363.6,1764.6 L364.5,1763.9 L365.4,1764.6 L366.3,1765.1 L367.2,1764.1 L368.2,1763.2 L369.1,1765.1 L370.0,1766.0 L371.0,1766.0 L372.0,1765.8 L372.9,1765.7 L373.7,1765.0 L374.6,1764.2 L375.4,1764.5 L376.3,1766.3 L377.2,1765.0 L378.1,1765.6 L379.0,1766.8 L379.9,1767.4 L380.8,1765.9 L381.7,1765.3 L382.6,1765.9 L383.5,1767.6 L384.4,1767.1 L385.3,1765.9 L386.2,1764.8 L387.1,1764.8 L388.0,1764.9 L389.0,1766.7 L389.9,1768.0 L390.8,1767.6 L391.7,1765.6 L392.6,1767.0 L393.6,1768.3 L394.5,1768.6 L395.4,1767.7 L396.3,1766.8 L397.2,1766.8 L398.1,1767.0 L399.0,1765.8 L399.9,1765.4 L400.8,1766.9 L401.7,1768.9 L402.6,1768.0 L403.5,1767.6 L404.4,1768.1 L405.3,1768.8 L406.2,1767.3 L407.1,1768.3 L408.0,1768.9 L408.9,1768.4 L409.8,1766.5 L410.7,1766.4 L411.6,1766.6 L412.5,1766.7 L413.4,1766.5 L414.3,1767.4 L415.2,1767.4 L416.1,1766.7 L417.0,1767.2 L417.9,1766.5 L418.8,1767.4 L419.7,1768.9 L420.6,1767.2 L421.5,1767.3 L422.4,1767.7 L423.3,1768.2 L424.2,1769.2 L425.1,1768.1 L426.0,1768.3 L426.9,1769.2 L427.8,1768.0 L428.7,1768.0 L429.6,1768.0 L430.5,1767.7 L431.4,1766.3 L432.3,1767.2 L433.2,1767.4 L434.1,1766.8 L435.0,1766.3 L435.9,1768.3 L436.8,1768.4 L437.7,1767.2 L438.6,1768.1 L439.5,1768.9 L440.4,1769.0 L441.3,1768.5 L442.2,1767.8 L443.1,1768.3 L444.0,1768.6 L444.9,1768.9 L445.8,1769.6 L446.7,1767.9 L447.6,1767.7 L448.5,1768.5 L449.4,1767.6 L450.3,1767.5 L451.3,1768.5 L452.2,1769.3 L453.2,1768.4 L454.1,1768.6 L455.1,1769.1 L456.1,1769.6 L457.1,1769.3 L458.1,1768.1 L459.1,1768.6 L460.1,1768.2 L461.1,1768.1 L462.0,1768.4 L463.0,1768.4 L464.0,1767.7 L464.9,1767.9 L465.9,1767.7 L466.8,1768.3 L467.7,1769.2 L468.6,1768.4 L469.5,1768.7 L470.3,1768.9 L471.1,1769.0 L471.9,1767.1 L472.6,1766.5 L473.4,1767.1 L474.3,1768.1 L475.2,1768.3 L476.1,1767.4 L476.9,1765.2 L477.7,1764.6 L478.4,1764.4 L479.1,1764.8 L479.9,1764.2 L480.7,1762.9 L481.4,1762.8 L482.1,1762.6 L482.7,1761.9 L483.6,1762.4 L484.4,1763.8 L485.2,1764.2 L485.8,1764.8 L486.3,1765.5 L486.6,1766.3 L487.0,1766.3 L487.3,1766.3 L487.8,1766.1 L488.3,1767.4 L488.8,1768.8 L489.3,1769.9 L490.0,1770.2 L490.8,1769.7 L491.7,1769.3 L492.5,1771.5 L493.2,1772.2 L494.0,1772.4 L494.8,1770.5 L495.6,1771.1 L496.5,1772.5 L497.4,1770.9 L498.4,1771.1 L499.4,1772.5 L500.4,1773.2 L501.5,1772.1 L502.2,1770.6 L502.9,1770.8 L503.6,1771.4 L504.3,1771.7 L505.0,1771.7 L505.7,1771.3 L506.4,1771.0 L507.1,1770.7 L508.1,1771.1 L509.2,1772.4 L510.2,1771.3 L511.1,1770.9 L512.1,1772.2 L513.0,1771.8 L513.9,1770.7 L514.7,1770.5 L515.4,1771.3 L516.2,1771.9 L517.0,1772.3 L517.8,1771.9 L518.8,1770.3 L519.7,1771.1 L520.3,1772.6 L520.9,1771.7 L521.3,1770.9 L521.8,1770.1 L522.2,1769.6 L522.9,1768.9 L523.7,1766.5 L524.4,1766.8 L525.0,1767.8 L525.5,1768.3 L525.9,1768.8 L526.4,1769.6 L526.7,1771.0 L527.0,1772.5 L527.3,1773.9 L527.6,1774.9 L528.0,1775.0 L528.3,1775.2 L528.6,1775.4 L528.9,1775.8 L529.2,1776.3 L529.6,1776.8 L529.9,1777.3 L530.4,1778.7 L530.9,1779.9 L531.3,1781.2 L531.8,1782.5 L532.4,1783.6 L533.2,1783.5 L534.1,1782.1 L534.7,1780.4 L535.3,1779.5 L536.0,1778.7 L536.4,1779.2 L536.8,1779.7 L537.3,1779.6 L537.7,1778.4 L538.1,1777.3 L538.5,1776.5 L538.9,1776.0 L539.3,1775.6 L539.9,1774.1 L540.4,1772.3 L540.9,1771.1 L541.8,1770.3 L542.3,1770.7 L543.1,1771.8 L543.8,1771.0 L544.5,1770.1 L545.3,1769.0 L546.2,1770.6 L547.1,1771.4 L547.9,1770.4 L548.7,1770.7 L549.6,1769.6 L550.5,1768.5 L551.5,1770.8 L552.5,1768.3 L553.4,1769.5 L554.4,1769.9 L555.4,1768.7 L556.3,1768.2 L557.2,1768.7 L558.1,1769.4 L559.0,1769.3 L559.9,1767.1 L560.8,1766.5 L561.8,1767.0 L562.7,1767.1 L563.5,1766.1 L564.4,1765.4 L565.2,1765.1 L566.0,1764.9 L566.8,1764.3 L567.7,1764.1 L568.5,1764.1 L569.3,1764.0 L570.1,1763.6 L570.8,1763.3 L571.5,1763.9 L572.2,1763.5 L572.9,1761.7 L573.6,1761.3 L574.3,1761.1 L574.9,1759.9 L575.5,1758.5 L576.2,1758.2 L576.8,1757.6 L577.4,1756.2 L578.0,1755.1 L578.6,1754.8 L579.2,1754.4 L579.8,1753.3 L580.4,1752.4 L581.0,1753.2 L581.6,1753.6 L582.2,1752.6 L582.7,1751.6 L583.3,1750.3 L583.8,1748.9 L584.4,1748.5 L584.9,1748.2 L585.4,1748.1 L585.8,1748.0 L586.3,1748.0 L586.7,1746.2 L587.1,1744.2 L587.6,1742.5 L588.0,1742.8 L588.4,1742.9 L588.9,1742.5 L589.3,1741.1 L589.7,1739.6 L590.1,1738.6 L590.5,1737.8 L590.9,1737.1 L591.2,1736.4 L591.5,1736.0 L591.9,1735.6 L592.2,1735.1 L592.5,1734.0 L592.8,1732.7 L593.2,1731.4 L593.5,1730.0 L593.8,1729.3 L594.1,1728.5 L594.5,1727.7 L594.8,1727.0 L595.1,1726.3 L595.4,1725.7 L595.7,1725.0 L596.0,1724.4 L596.3,1723.9 L596.6,1723.4 L597.0,1722.8 L597.3,1721.7 L597.6,1720.2 L597.9,1718.7 L598.2,1717.2 L598.5,1716.4 L598.8,1716.0 L599.1,1715.6 L599.3,1715.2 L599.6,1714.6 L599.9,1713.6 L600.1,1712.6 L600.4,1711.6 L600.6,1710.6 L600.8,1709.7 L601.0,1708.8 L601.3,1707.8 L601.5,1706.9 L601.7,1706.0 L601.9,1705.0 L602.1,1704.0 L602.3,1703.0 L602.5,1701.9 L602.7,1700.9 L602.9,1699.8 L603.1,1698.8 L603.4,1697.9 L603.6,1697.0 L603.8,1696.0 L604.0,1695.1 L604.3,1694.2 L604.5,1693.1 L604.7,1692.0 L604.9,1690.9 L605.1,1689.8 L605.4,1688.7 L605.6,1687.7 L605.8,1686.9 L606.0,1686.0 L606.2,1685.2 L606.4,1684.4 L606.6,1683.5 L606.9,1682.6 L607.1,1681.7 L607.3,1680.8 L607.5,1679.9 L607.7,1679.0 L607.9,1678.0 L608.0,1677.5 L608.2,1677.1 L608.4,1676.6 L608.6,1676.2 L608.8,1675.7 L609.0,1675.3 L609.2,1674.3 L609.4,1673.1 L609.6,1671.9 L609.8,1670.7 L610.1,1669.5 L610.3,1668.2 L610.5,1667.2 L610.7,1666.3 L610.9,1665.3 L611.1,1664.4 L611.3,1663.4 L611.5,1662.5 L611.7,1661.5 L611.9,1660.6 L612.1,1659.7 L612.2,1658.8 L612.4,1657.8 L612.6,1656.9 L612.7,1656.1 L612.9,1655.6 L613.0,1655.1 L613.2,1654.6 L613.3,1654.1 L613.5,1653.6 L613.6,1653.1 L613.8,1652.5 L613.9,1652.0 L614.1,1651.1 L614.2,1650.1 L614.4,1649.1 L614.5,1648.4 L614.6,1647.6 L614.8,1646.9 L614.9,1646.1 L615.1,1645.3 L615.2,1644.4 L615.4,1643.4 L615.5,1642.5 L615.7,1641.5 L615.8,1640.6 L616.0,1639.6 L616.2,1638.6 L616.3,1637.5 L616.5,1636.4 L616.6,1635.2 L616.8,1634.1 L617.0,1632.9 L617.1,1631.7 L617.3,1630.5 L617.4,1629.2 L617.6,1628.3 L617.7,1627.5 L617.8,1626.6 L617.9,1625.8 L618.1,1624.9 L618.2,1624.0 L618.3,1623.2 L618.4,1622.3 L618.5,1621.3 L618.7,1620.4 L618.8,1619.5 L618.9,1618.6 L619.0,1617.7 L619.2,1616.8 L619.3,1615.9 L619.4,1615.0 L619.5,1614.1 L619.6,1613.2 L619.8,1612.3 L619.9,1611.4 L620.0,1610.5 L620.1,1609.6 L620.2,1608.8 L620.4,1607.9 L620.5,1607.1 L620.6,1606.3 L620.7,1605.4 L620.8,1604.6 L621.0,1603.7 L621.1,1602.9 L621.2,1601.9 L621.3,1600.9 L621.4,1599.9 L621.6,1598.8 L621.7,1597.8 L621.8,1596.8 L621.9,1595.8 L622.0,1594.8 L622.1,1593.7 L622.3,1592.7 L622.4,1591.8 L622.5,1591.1 L622.6,1590.3 L622.7,1589.5 L622.8,1588.7 L623.0,1587.9 L623.1,1587.1 L623.2,1586.3 L623.3,1585.5 L623.4,1584.7 L623.6,1583.8 L623.7,1582.9 L623.8,1581.9 L623.9,1580.9 L624.0,1580.0 L624.2,1579.0 L624.3,1578.0 L624.4,1577.1 L624.5,1576.1 L624.6,1575.1 L624.8,1574.3 L624.9,1573.7 L625.0,1573.1 L625.1,1572.5 L625.2,1571.9 L625.4,1571.3 L625.5,1570.7 L625.6,1570.0 L625.7,1569.4 L625.9,1568.8 L626.0,1568.0 L626.1,1567.1 L626.2,1566.2 L626.3,1565.4 L626.5,1564.5 L626.6,1563.6 L626.7,1562.7 L626.8,1561.8 L626.9,1560.9 L627.1,1560.0 L627.2,1559.0 L627.3,1557.9 L627.4,1556.8 L627.5,1555.8 L627.7,1554.7 L627.8,1553.6 L627.9,1552.6 L628.0,1551.5 L628.2,1550.4 L628.3,1549.4 L628.4,1548.3 L628.5,1547.3 L628.6,1546.3 L628.8,1545.3 L628.9,1544.3 L629.0,1543.2 L629.1,1542.2 L629.2,1541.2 L629.4,1540.2 L629.5,1539.2 L629.6,1538.5 L629.7,1537.9 L629.8,1537.3 L630.0,1536.7 L630.1,1536.1 L630.2,1535.5 L630.3,1534.8 L630.5,1534.2 L630.6,1533.6 L630.7,1533.0 L630.8,1531.9 L630.9,1530.7 L631.1,1529.5 L631.2,1528.4 L631.3,1527.2 L631.4,1526.0 L631.6,1524.8 L631.7,1523.7 L631.8,1522.5 L631.9,1521.4 L632.0,1520.5 L632.1,1519.6 L632.3,1518.7 L632.4,1517.8 L632.5,1516.9 L632.6,1516.1 L632.7,1515.2 L632.8,1514.3 L632.9,1513.4 L633.0,1512.5 L633.1,1511.6 L633.2,1510.6 L633.3,1509.6 L633.4,1508.6 L633.5,1507.6 L633.5,1506.6 L633.6,1505.6 L633.7,1504.6 L633.8,1503.7 L633.9,1502.7 L634.0,1501.7 L634.0,1500.7 L634.1,1499.7 L634.2,1498.7 L634.3,1497.7 L634.4,1496.9 L634.5,1496.1 L634.6,1495.3 L634.6,1494.5 L634.7,1493.7 L634.8,1493.0 L634.9,1492.2 L635.0,1491.4 L635.1,1490.7 L635.2,1489.9 L635.4,1489.1 L635.5,1488.4 L635.6,1487.6 L635.7,1486.7 L635.8,1485.8 L635.9,1485.0 L636.0,1484.1 L636.2,1483.3 L636.3,1482.4 L636.4,1481.6 L636.5,1480.7 L636.7,1479.8 L636.8,1479.0 L636.9,1478.1 L637.0,1477.2 L637.2,1476.3 L637.3,1475.4 L637.4,1474.5 L637.5,1473.7 L637.7,1472.8 L637.8,1471.9 L637.9,1471.0 L638.0,1470.0 L638.2,1468.9 L638.3,1467.9 L638.4,1466.9 L638.5,1465.9 L638.6,1464.9 L638.8,1463.9 L638.9,1462.8 L639.0,1461.8 L639.1,1460.9 L639.3,1460.1 L639.4,1459.3 L639.5,1458.5 L639.6,1457.8 L639.7,1457.0 L639.9,1456.2 L640.0,1455.4 L640.1,1454.7 L640.2,1453.9 L640.3,1453.0 L640.5,1451.9 L640.6,1450.8 L640.7,1449.7 L640.8,1448.6 L640.9,1447.5 L641.1,1446.4 L641.2,1445.3 L641.3,1444.3 L641.4,1443.1 L641.5,1442.1 L641.7,1441.3 L641.8,1440.5 L641.9,1439.7 L642.0,1438.9 L642.2,1438.1 L642.3,1437.3 L642.4,1436.5 L642.5,1435.7 L642.6,1434.9 L642.8,1434.0 L642.9,1433.0 L643.0,1432.0 L643.1,1431.0 L643.3,1430.0 L643.4,1429.1 L643.5,1428.1 L643.6,1427.1 L643.7,1426.2 L643.8,1425.2 L643.9,1424.3 L644.1,1423.6 L644.2,1422.8 L644.3,1422.0 L644.4,1421.2 L644.5,1420.4 L644.6,1419.6 L644.7,1418.8 L644.8,1418.0 L644.9,1417.2 L645.0,1416.3 L645.1,1415.5 L645.2,1414.6 L645.3,1413.6 L645.4,1412.6 L645.5,1411.6 L645.5,1410.6 L645.6,1409.6 L645.7,1408.6 L645.8,1407.6 L645.9,1406.6 L646.0,1405.6 L646.1,1404.6 L646.2,1403.6 L646.3,1402.6 L646.4,1401.7 L646.5,1400.8 L646.6,1399.8 L646.8,1399.0 L646.9,1398.1 L647.0,1397.2 L647.1,1396.3 L647.2,1395.4 L647.3,1394.5 L647.5,1393.5 L647.6,1392.7 L647.7,1392.0 L647.8,1391.2 L648.0,1390.4 L648.1,1389.6 L648.2,1388.9 L648.4,1388.1 L648.5,1387.3 L648.6,1386.6 L648.8,1385.7 L648.9,1384.8 L649.0,1383.9 L649.2,1383.0 L649.3,1382.0 L649.4,1381.1 L649.6,1380.2 L649.7,1379.3 L649.8,1378.3 L650.0,1377.5 L650.1,1376.7 L650.3,1376.0 L650.4,1375.2 L650.6,1374.4 L650.7,1373.7 L650.8,1372.9 L651.0,1372.2 L651.1,1371.4 L651.3,1370.4 L651.4,1369.5 L651.6,1368.5 L651.7,1367.6 L651.9,1366.7 L652.0,1365.7 L652.2,1364.8 L652.3,1364.0 L652.5,1363.2 L652.6,1362.5 L652.8,1361.8 L652.9,1361.1 L653.1,1360.3 L653.3,1359.4 L653.5,1358.6 L653.7,1357.6 L653.9,1356.7 L654.0,1355.7 L654.2,1354.8 L654.4,1353.9 L654.6,1352.9 L654.8,1352.1 L655.0,1351.2 L655.1,1350.4 L655.3,1349.6 L655.5,1348.8 L655.7,1348.0 L655.9,1347.2 L656.1,1346.4 L656.3,1345.7 L656.5,1344.9 L656.7,1344.1 L656.9,1343.3 L657.1,1342.5 L657.3,1341.3 L657.6,1340.1 L657.8,1338.8 L658.0,1337.6 L658.2,1336.4 L658.4,1335.3 L658.7,1334.4 L658.9,1333.4 L659.1,1332.5 L659.3,1331.6 L659.6,1330.8 L659.8,1330.4 L660.0,1330.0 L660.2,1329.5 L660.5,1329.1 L660.7,1328.7 L660.9,1327.4 L661.1,1326.0 L661.3,1324.6 L661.4,1323.2 L661.6,1321.8 L661.8,1320.4 L662.0,1319.6 L662.2,1319.1 L662.4,1318.5 L662.6,1318.0 L662.8,1317.5 L663.0,1317.0 L663.2,1316.3 L663.4,1315.3 L663.6,1314.4 L663.8,1313.4 L664.0,1312.5 L664.2,1311.6 L664.5,1310.3 L664.7,1309.0 L664.9,1307.6 L665.2,1306.3 L665.4,1304.9 L665.7,1304.3 L665.9,1304.1 L666.2,1303.9 L666.5,1303.7 L666.7,1303.4 L667.0,1302.6 L667.3,1301.7 L667.5,1300.9 L667.8,1300.1 L668.1,1299.0 L668.4,1297.9 L668.6,1296.8 L668.9,1295.7 L669.2,1294.8 L669.5,1294.1 L669.7,1293.3 L670.0,1292.7 L670.3,1291.9 L670.7,1291.1 L671.0,1290.2 L671.3,1289.4 L671.7,1288.1 L672.0,1286.5 L672.4,1284.9 L672.7,1283.3 L673.1,1282.9 L673.4,1282.6 L673.7,1282.2 L674.1,1281.6 L674.4,1280.7 L674.8,1279.9 L675.1,1279.1 L675.5,1278.7 L675.8,1278.3 L676.2,1277.8 L676.5,1277.0 L676.9,1276.0 L677.3,1275.1 L677.6,1274.1 L678.0,1273.2 L678.3,1272.4 L678.7,1271.5 L679.1,1270.3 L679.4,1269.2 L679.8,1268.1 L680.2,1267.6 L680.6,1267.3 L681.0,1267.1 L681.5,1266.2 L682.0,1265.3 L682.4,1264.5 L682.8,1263.9 L683.5,1263.1 L684.2,1261.4 L684.9,1259.9 L685.7,1259.0 L686.5,1258.7 L687.3,1258.9 L688.2,1259.7 L689.1,1259.3 L689.8,1259.9 L690.5,1262.1 L691.3,1262.5 L692.1,1262.4 L692.9,1263.2 L693.7,1263.9 L694.5,1264.6 L695.3,1265.4 L696.0,1265.8 L696.8,1265.9 L697.5,1265.5 L698.1,1265.9 L698.7,1268.2 L699.4,1269.9 L699.9,1270.5 L700.5,1271.1 L701.0,1271.5 L701.4,1271.9 L701.9,1272.6 L702.3,1273.5 L702.7,1274.4 L703.2,1275.3 L703.7,1276.3 L704.2,1276.7 L704.7,1276.5 L705.2,1276.5 L705.7,1278.4 L706.2,1280.2 L706.7,1280.6 L707.2,1280.5 L707.7,1280.6 L708.3,1281.0 L708.8,1281.6 L709.4,1282.7 L709.9,1283.8 L710.5,1285.5 L711.1,1287.2 L711.7,1286.9 L712.2,1286.6 L712.7,1287.9 L713.3,1289.6 L713.9,1290.9 L714.5,1292.1 L715.0,1292.4 L715.6,1292.1 L716.2,1292.3 L716.8,1292.8 L717.4,1293.5 L718.0,1294.4 L718.6,1295.4 L719.2,1296.5 L719.8,1297.5 L720.4,1298.4 L720.9,1299.1 L721.5,1299.5 L722.0,1300.1 L722.6,1300.9 L723.1,1301.6 L723.7,1301.3 L724.2,1301.0 L724.8,1301.8 L725.3,1302.6 L725.9,1303.6 L726.5,1304.5 L727.0,1305.8 L727.6,1307.3 L728.1,1308.2 L728.7,1308.0 L729.4,1308.4 L730.0,1309.7 L730.6,1309.9 L731.3,1309.4 L731.9,1309.7 L732.5,1310.4 L733.2,1311.3 L733.8,1312.4 L734.5,1313.8 L735.1,1315.3 L735.7,1315.9 L736.4,1316.6 L737.0,1317.2 L737.6,1317.7 L738.3,1317.6 L738.9,1317.8 L739.5,1319.0 L740.1,1319.9 L740.7,1320.5 L741.4,1321.2 L742.0,1321.9 L742.6,1322.2 L743.2,1322.2 L743.8,1323.4 L744.5,1325.7 L745.1,1326.0 L745.7,1325.3 L746.3,1326.6 L747.0,1328.9 L747.6,1329.8 L748.2,1330.3 L748.8,1329.5 L749.4,1328.2 L750.0,1329.2 L750.6,1330.8 L751.3,1332.2 L751.9,1333.6 L752.6,1334.6 L753.3,1335.1 L754.0,1334.6 L754.6,1334.5 L755.2,1334.7 L755.9,1335.1 L756.5,1335.5 L757.2,1337.3 L757.9,1339.6 L758.6,1338.7 L759.2,1338.2 L759.9,1339.7 L760.6,1340.3 L761.3,1339.9 L762.0,1341.0 L762.7,1342.5 L763.4,1344.0 L764.0,1345.0 L764.7,1343.9 L765.4,1344.0 L766.1,1346.2 L766.7,1346.9 L767.4,1346.8 L768.1,1348.2 L768.8,1349.4 L769.5,1349.6 L770.2,1349.6 L770.8,1349.1 L771.5,1350.2 L772.1,1352.2 L772.8,1352.5 L773.4,1352.2 L774.1,1351.8 L774.7,1351.4 L775.3,1352.0 L776.0,1352.8 L776.6,1354.4 L777.2,1355.8 L777.8,1356.4 L778.4,1356.9 L779.0,1357.2 L779.6,1357.6 L780.2,1357.9 L780.8,1358.3 L781.4,1359.4 L782.1,1360.3 L782.8,1360.9 L783.6,1362.3 L784.2,1364.0 L784.9,1362.9 L785.6,1362.0 L786.3,1364.3 L787.1,1365.9 L787.8,1366.7 L788.6,1365.7 L789.3,1365.6 L790.1,1368.2 L790.9,1368.8 L791.7,1369.0 L792.5,1370.0 L793.3,1369.4 L794.1,1368.7 L794.9,1369.3 L795.6,1369.8 L796.4,1370.5 L797.3,1372.6 L798.1,1372.6 L799.0,1372.0 L799.9,1371.6 L800.7,1372.1 L801.6,1372.2 L802.5,1372.0 L803.3,1371.6 L804.2,1371.8 L805.1,1373.0 L805.9,1375.3 L806.8,1373.9 L807.7,1374.8 L808.5,1376.0 L809.4,1374.4 L810.2,1374.5 L811.1,1375.1 L811.9,1376.1 L812.8,1375.5 L813.6,1375.8 L814.5,1377.0 L815.4,1379.0 L816.2,1379.4 L817.1,1379.6 L817.9,1379.7 L818.8,1379.6 L819.6,1380.2 L820.5,1381.2 L821.3,1381.6 L822.2,1381.1 L823.1,1380.9 L823.9,1381.7 L824.8,1380.0 L825.7,1381.2 L826.6,1382.5 L827.5,1382.0 L828.4,1383.3 L829.3,1383.7 L830.2,1383.5 L831.0,1382.8 L831.9,1382.4 L832.7,1383.6 L833.5,1386.2 L834.2,1384.7 L835.0,1384.2 L835.9,1385.8 L836.8,1385.9 L837.6,1386.2 L838.3,1386.7 L839.1,1388.4 L839.8,1389.8 L840.5,1390.9 L841.2,1390.4 L841.9,1389.3 L842.5,1390.6 L843.2,1391.7 L844.0,1391.3 L844.8,1392.0 L845.6,1393.1 L846.3,1393.2 L847.1,1393.3 L847.8,1393.3 L848.5,1393.7 L849.1,1394.2 L849.8,1394.9 L850.5,1396.0 L851.1,1398.0 L851.7,1399.1 L852.2,1398.8 L852.8,1398.6 L853.4,1398.7 L853.9,1398.9 L854.5,1400.7 L855.1,1402.8 L855.7,1403.7 L856.2,1404.4 L856.8,1404.2 L857.4,1403.7 L858.0,1403.7 L858.6,1403.7 L859.3,1404.5 L859.9,1405.3 L860.6,1405.9 L861.2,1406.6 L861.9,1407.9 L862.5,1408.8 L863.1,1409.1 L863.7,1409.6 L864.2,1410.6 L864.7,1411.5 L865.2,1412.3 L865.6,1413.1 L866.1,1414.3 L866.6,1415.6 L866.9,1417.0 L867.3,1418.2 L867.6,1419.5 L867.9,1420.7 L868.1,1421.9 L868.4,1422.8 L868.6,1423.6 L868.8,1424.3 L869.0,1425.0 L869.3,1425.6 L869.5,1426.4 L869.7,1427.1 L869.9,1427.9 L870.0,1428.7 L870.2,1429.6 L870.3,1430.4 L870.4,1431.1 L870.5,1431.9 L870.9,1431.9 L871.1,1431.1 L871.2,1430.3 L871.3,1429.6 L871.4,1428.7 L871.5,1427.7 L871.6,1426.7 L871.7,1425.9 L871.7,1425.2 L871.8,1424.4 L871.9,1423.6 L871.9,1422.8 L872.0,1422.0 L872.1,1421.2 L872.1,1420.4 L872.2,1419.6 L872.3,1418.8 L872.4,1418.0 L872.4,1417.3 L872.5,1416.6 L872.6,1415.9 L872.7,1414.9 L872.8,1414.1 L873.0,1413.3 L873.1,1412.5 L873.4,1411.6 L873.9,1411.3 L874.2,1411.8 L874.4,1412.5 L874.6,1413.3 L874.8,1414.3 L874.9,1415.0 L875.1,1415.8 L875.2,1416.6 L875.4,1417.4 L875.6,1418.2 L875.7,1418.8 L875.9,1419.5 L876.1,1420.1 L876.3,1420.8 L876.5,1421.3 L876.7,1421.8 L877.0,1423.0 L877.4,1424.0 L877.8,1425.0 L878.5,1427.1 L879.3,1428.3 L880.2,1426.1 L881.0,1426.7 L882.0,1427.5 L882.9,1428.0 L883.7,1429.0 L884.5,1428.3 L885.0,1427.7 L885.5,1428.3 L885.9,1429.2 L886.2,1430.1 L886.4,1430.9 L886.6,1431.8 L886.7,1432.7 L886.9,1433.7 L887.1,1434.7 L887.2,1435.4 L887.3,1436.1 L887.4,1436.9 L887.5,1437.6 L887.6,1438.4 L887.7,1439.2 L887.8,1440.1 L887.9,1440.9 L887.9,1441.7 L888.0,1442.5 L888.1,1443.3 L888.2,1444.1 L888.3,1444.8 L888.4,1445.6 L888.5,1446.6 L888.7,1447.7 L888.8,1448.6 L889.0,1449.4 L889.1,1450.2 L889.4,1451.0 L889.7,1451.8 L890.2,1452.7 L890.9,1453.3 L891.3,1453.0 L891.7,1451.9 L892.0,1451.0 L892.2,1450.1 L892.5,1449.3 L892.8,1448.5 L893.2,1447.7 L893.5,1446.9 L893.8,1445.2 L894.2,1443.5 L894.5,1441.8 L895.1,1440.6 L895.7,1440.2 L896.6,1441.5 L897.3,1442.9 L898.0,1443.6 L898.8,1443.4 L899.6,1442.9 L900.4,1443.7 L901.3,1443.3 L901.8,1442.6 L902.4,1443.5 L902.9,1444.7 L903.5,1446.1 L904.0,1447.5 L904.6,1448.4 L905.1,1448.7 L905.9,1449.3 L906.5,1450.0 L907.0,1450.7 L907.6,1451.5 L908.1,1451.8 L908.7,1451.1 L909.2,1450.7 L909.7,1451.2 L910.2,1451.7 L910.7,1452.4 L911.2,1453.3 L911.7,1454.4 L912.2,1455.8 L912.8,1457.2 L913.3,1458.3 L913.8,1459.4 L914.3,1460.7 L914.8,1462.0 L915.3,1462.8 L915.7,1463.2 L916.1,1463.6 L916.5,1464.2 L916.9,1464.8 L917.4,1465.5 L917.8,1466.3 L918.2,1467.3 L918.6,1468.3 L919.0,1468.8 L919.5,1469.1 L919.9,1469.5 L920.3,1470.5 L920.8,1471.5 L921.3,1472.1 L921.7,1472.2 L922.2,1472.2 L922.7,1473.9 L923.2,1476.0 L923.7,1477.1 L924.2,1477.0 L924.7,1476.9 L925.1,1478.6 L925.6,1480.4 L926.1,1481.6 L926.6,1481.9 L927.1,1482.2 L927.7,1482.3 L928.2,1482.5 L928.7,1482.9 L929.3,1483.4 L929.8,1484.1 L930.4,1485.1 L930.9,1486.3 L931.5,1487.8 L932.0,1489.1 L932.5,1490.0 L933.1,1490.9 L933.6,1490.6 L934.2,1490.3 L934.7,1490.7 L935.2,1491.3 L935.7,1492.3 L936.2,1493.8 L936.7,1495.2 L937.3,1496.1 L937.9,1497.0 L938.4,1497.4 L939.0,1497.7 L939.5,1498.1 L940.0,1498.5 L940.6,1499.3 L941.1,1500.6 L941.6,1501.5 L942.2,1501.1 L942.7,1500.7 L943.2,1501.8 L943.7,1503.0 L944.3,1504.1 L944.8,1505.1 L945.4,1506.4 L945.9,1508.1 L946.5,1509.4 L947.0,1509.7 L947.4,1509.9 L947.8,1510.6 L948.2,1511.6 L948.6,1512.6 L949.0,1512.9 L949.4,1513.1 L949.8,1513.2 L950.2,1513.6 L950.6,1514.0 L951.0,1514.4 L951.4,1515.1 L951.8,1515.8 L952.2,1516.6 L952.6,1518.2 L953.0,1520.0 L953.4,1521.7 L953.9,1522.4 L954.3,1522.8 L954.7,1523.3 L955.1,1523.5 L955.6,1523.8 L956.0,1524.1 L956.4,1524.6 L956.9,1525.0 L957.3,1526.0 L957.8,1527.6 L958.2,1529.2 L958.7,1530.4 L959.2,1531.5 L959.6,1532.5 L960.1,1533.0 L960.6,1533.5 L961.0,1533.9 L961.4,1534.5 L961.8,1535.0 L962.2,1536.1 L962.6,1537.5 L963.1,1538.9 L963.5,1540.1 L963.9,1541.2 L964.4,1542.2 L964.8,1542.1 L965.2,1541.9 L965.7,1542.0 L966.1,1542.5 L966.6,1543.1 L967.1,1544.2 L967.5,1545.5 L968.0,1546.8 L968.4,1547.8 L968.9,1548.8 L969.3,1549.9 L969.8,1551.1 L970.3,1552.4 L970.7,1552.5 L971.2,1552.6 L971.6,1553.2 L972.1,1554.9 L972.6,1556.7 L973.0,1557.7 L973.5,1558.3 L973.9,1559.0 L974.4,1559.4 L974.8,1559.8 L975.2,1560.1 L975.7,1560.4 L976.1,1560.6 L976.5,1561.7 L977.0,1563.4 L977.5,1565.5 L978.0,1565.2 L978.4,1564.9 L978.8,1564.9 L979.4,1566.8 L980.1,1568.1 L980.7,1567.6 L981.3,1567.5 L981.9,1568.2 L982.5,1569.3 L983.2,1571.1 L983.8,1572.0 L984.4,1571.6 L985.0,1572.4 L985.6,1574.3 L986.2,1575.2 L986.8,1574.9 L987.4,1574.7 L988.0,1574.7 L988.5,1574.9 L989.1,1575.6 L989.7,1576.4 L990.3,1577.3 L990.9,1578.3 L991.4,1579.4 L992.0,1580.6 L992.6,1581.9 L993.3,1582.6 L993.9,1581.6 L994.5,1581.2 L995.1,1582.3 L995.6,1583.1 L996.2,1583.4 L996.8,1583.9 L997.4,1586.0 L998.0,1587.7 L998.5,1586.7 L999.1,1585.7 L999.7,1586.2 L1000.3,1586.7 L1000.9,1587.3 L1001.4,1588.1 L1002.0,1589.4 L1002.6,1590.8 L1003.2,1592.7 L1003.7,1593.9 L1004.1,1594.9 L1004.5,1595.5 L1005.0,1596.3 L1005.4,1596.7 L1005.8,1597.2 L1006.2,1597.7 L1006.6,1598.6 L1007.0,1599.7 L1007.4,1600.8 L1007.9,1601.5 L1008.3,1602.2 L1008.7,1602.9 L1009.1,1602.8 L1009.6,1602.7 L1010.0,1602.9 L1010.4,1603.5 L1010.9,1604.1 L1011.3,1605.4 L1011.8,1607.4 L1012.2,1609.3 L1012.6,1610.2 L1013.1,1610.8 L1013.5,1611.4 L1013.9,1611.2 L1014.4,1611.0 L1014.8,1611.3 L1015.2,1613.1 L1015.7,1614.8 L1016.1,1616.0 L1016.5,1616.4 L1016.9,1616.9 L1017.4,1617.5 L1017.8,1618.3 L1018.2,1619.1 L1018.6,1619.8 L1019.0,1620.5 L1019.4,1621.2 L1019.9,1621.9 L1020.3,1622.5 L1020.8,1623.1 L1021.2,1623.7 L1021.6,1624.3 L1022.1,1625.1 L1022.5,1626.3 L1022.9,1627.5 L1023.3,1628.6 L1023.8,1629.5 L1024.2,1630.4 L1024.6,1631.8 L1025.0,1633.4 L1025.4,1635.0 L1025.8,1635.0 L1026.3,1634.6 L1026.7,1634.3 L1027.1,1636.1 L1027.5,1638.0 L1027.9,1639.8 L1028.4,1639.5 L1028.8,1639.2 L1029.2,1639.2 L1029.6,1640.2 L1030.1,1641.2 L1030.5,1642.4 L1030.9,1643.8 L1031.4,1645.3 L1031.8,1646.2 L1032.3,1647.0 L1032.8,1647.7 L1033.2,1647.8 L1033.7,1648.0 L1034.2,1648.1 L1034.7,1648.2 L1035.2,1648.6 L1035.7,1650.0 L1036.2,1651.5 L1036.7,1652.3 L1037.2,1652.8 L1037.7,1653.8 L1038.2,1655.4 L1038.7,1657.1 L1039.2,1656.6 L1039.7,1656.1 L1040.2,1656.6 L1040.7,1657.6 L1041.2,1658.8 L1041.8,1660.4 L1042.3,1662.1 L1042.8,1661.5 L1043.3,1660.8 L1043.8,1661.3 L1044.3,1662.7 L1044.8,1664.2 L1045.3,1665.6 L1045.8,1667.1 L1046.3,1667.9 L1046.8,1668.6 L1047.3,1668.9 L1047.7,1668.5 L1048.2,1668.2 L1048.6,1668.7 L1049.1,1669.4 L1049.5,1670.2 L1050.0,1671.0 L1050.4,1671.8 L1050.9,1673.1 L1051.3,1675.2 L1051.8,1677.2 L1052.2,1677.7 L1052.7,1677.5 L1053.1,1677.3 L1053.6,1678.9 L1054.0,1680.4 L1054.4,1681.8 L1054.9,1682.8 L1055.3,1683.8 L1055.8,1684.2 L1056.2,1684.1 L1056.7,1684.1 L1057.1,1684.8 L1057.6,1685.5 L1058.0,1686.5 L1058.5,1688.3 L1058.9,1690.1 L1059.4,1691.1 L1059.8,1691.4 L1060.3,1691.6 L1060.7,1691.9 L1061.2,1692.2 L1061.6,1692.7 L1062.0,1694.2 L1062.5,1695.6 L1062.9,1696.4 L1063.4,1696.7 L1063.8,1696.9 L1064.3,1697.5 L1064.7,1698.3 L1065.1,1699.0 L1065.6,1699.4 L1066.0,1699.9 L1066.5,1700.9 L1066.9,1702.8 L1067.4,1704.7 L1067.8,1706.1 L1068.2,1707.1 L1068.7,1708.2 L1069.1,1708.6 L1069.6,1709.0 L1070.0,1709.6 L1070.5,1710.9 L1070.9,1712.1 L1071.4,1712.3 L1071.8,1711.7 L1072.3,1711.1 L1072.7,1712.1 L1073.2,1713.1 L1073.6,1714.2 L1074.1,1715.3 L1074.6,1716.4 L1075.0,1717.8 L1075.5,1719.3 L1076.0,1720.6 L1076.5,1721.3 L1077.1,1722.1 L1077.6,1721.8 L1078.2,1721.5 L1078.8,1721.8 L1079.4,1722.3 L1080.0,1723.3 L1080.6,1724.3 L1081.2,1725.2 L1081.8,1726.0 L1082.4,1727.3 L1083.0,1728.9 L1083.6,1728.6 L1084.2,1727.7 L1084.8,1729.0 L1085.4,1730.9 L1086.0,1731.7 L1086.6,1732.1 L1087.2,1732.9 L1087.9,1733.7 L1088.5,1734.3 L1089.1,1734.8 L1089.7,1735.1 L1090.4,1735.3 L1091.0,1735.4 L1091.6,1735.6 L1092.3,1736.2 L1092.9,1736.9 L1093.5,1737.6 L1094.1,1738.6 L1094.7,1740.1 L1095.3,1740.9 L1095.9,1740.2 L1096.5,1739.9 L1097.0,1740.8 L1097.6,1741.9 L1098.2,1743.7 L1098.8,1745.1 L1099.4,1744.8 L1100.0,1744.5 L1100.6,1744.8 L1101.2,1745.2 L1101.8,1745.8 L1102.4,1746.5 L1103.0,1748.3 L1103.6,1749.7 L1104.3,1749.8 L1104.9,1750.7 L1105.6,1752.7 L1106.3,1753.9 L1107.0,1754.3 L1107.7,1755.1 L1108.4,1755.6 L1109.1,1754.4 L1109.9,1753.9 L1110.7,1754.0 L1111.4,1754.5 L1112.1,1755.3 L1112.8,1756.7 L1113.6,1757.8 L1114.3,1758.8 L1115.1,1758.6 L1115.8,1758.4 L1116.6,1758.3 L1117.4,1759.1 L1118.2,1760.1 L1119.0,1761.0 L1119.8,1761.7 L1120.6,1762.3 L1121.5,1762.9 L1122.3,1763.6 L1123.1,1763.8 L1124.0,1763.6 L1124.8,1762.5 L1125.7,1763.8 L1126.6,1765.2 L1127.4,1764.0 L1128.3,1764.9 L1129.2,1765.3 L1130.0,1765.4 L1130.9,1766.8 L1131.8,1766.2 L1132.6,1765.6 L1133.5,1766.0 L1134.3,1766.3 L1135.2,1766.5 L1136.0,1766.8 L1136.9,1769.2 L1137.7,1769.4 L1138.5,1768.8 L1139.4,1768.4 L1140.3,1768.7 L1141.2,1770.0 L1142.1,1771.3 L1143.0,1770.0 L1143.9,1769.3 L1144.8,1770.1 L1145.7,1771.5 L1146.6,1771.1 L1147.5,1772.1 L1148.4,1771.2 L1149.3,1769.5 L1150.2,1770.7 L1151.1,1771.8 L1152.0,1772.4 L1152.9,1772.6 L1153.8,1772.9 L1154.7,1770.6 L1155.6,1770.0 L1156.5,1770.5 L1157.4,1770.1 L1158.3,1770.3 L1159.2,1771.8 L1160.1,1773.4 L1161.0,1772.3 L1161.9,1773.2 L1162.8,1772.8 L1163.7,1772.0 L1164.6,1773.6 L1165.5,1772.7 L1166.4,1772.0 L1167.3,1772.0 L1168.2,1773.7 L1169.1,1774.5 L1170.0,1773.5 L1170.9,1772.0 L1171.8,1773.6 L1172.7,1774.1 L1173.5,1773.7 L1174.4,1772.9 L1175.3,1773.6 L1176.2,1773.3 L1177.1,1773.2 L1178.0,1773.6 L1178.9,1773.9 L1179.8,1774.9 L1180.6,1775.7 L1181.5,1776.0 L1182.4,1774.8 L1183.3,1774.2 L1184.2,1774.3 L1185.1,1775.4 L1186.0,1776.6 L1186.9,1776.1 L1187.8,1775.4 L1188.7,1775.9 L1189.6,1775.7 L1190.5,1776.9 L1191.5,1777.8 L1192.4,1777.1 L1193.3,1775.7 L1194.2,1775.5 L1195.1,1775.9 L1196.0,1776.8 L1196.9,1777.2 L1197.8,1777.5 L1198.8,1776.8 L1199.7,1775.4 L1200.7,1775.6 L1201.6,1777.2 L1202.6,1776.9 L1203.6,1776.1 L1204.5,1775.7 L1205.5,1775.7 L1206.5,1777.7 L1207.4,1776.5 L1208.4,1775.8 L1209.4,1776.1 L1210.3,1775.3 L1211.3,1775.4 L1212.2,1776.4 L1213.1,1777.2 L1214.1,1777.1 L1215.0,1775.1 L1215.9,1774.3 L1216.7,1774.8 L1217.6,1775.9 L1218.4,1774.4 L1219.2,1773.5 L1220.0,1773.5 L1220.8,1775.8 L1221.6,1775.9 L1222.3,1774.7 L1223.0,1775.7 L1223.8,1776.1 L1224.5,1775.2 L1225.2,1775.9 L1226.2,1776.9 L1227.0,1776.0 L1227.8,1775.5 L1228.5,1775.3 L1229.2,1775.4 L1229.8,1776.3 L1230.5,1777.8 L1231.1,1778.8 L1231.8,1779.4 L1232.5,1780.4 L1233.2,1781.0 L1234.0,1779.1 L1234.9,1779.8 L1235.9,1780.7 L1236.7,1780.2 L1237.5,1780.6 L1238.3,1780.4 L1239.2,1779.6 L1240.0,1779.9 L1240.7,1780.4 L1241.5,1781.0 L1242.4,1782.1 L1243.2,1781.1 L1244.1,1779.4 L1245.0,1780.5 L1245.9,1781.4 L1246.9,1782.0 L1247.8,1781.4 L1248.8,1779.0 L1249.8,1778.7 L1250.8,1781.0 L1251.8,1781.7 L1252.8,1780.8 L1253.8,1779.1 L1254.8,1778.1 L1255.9,1780.9 L1256.9,1779.2 L1257.9,1780.0 L1258.9,1780.0 L1259.9,1779.6 L1260.8,1779.7 L1261.8,1777.5 L1262.8,1779.0 L1263.7,1778.5 L1264.6,1777.4 L1265.5,1777.9 L1266.3,1779.1 L1267.2,1779.6 L1268.0,1779.4 L1268.8,1777.7 L1269.5,1777.0 L1270.2,1777.2 L1271.0,1777.7 L1271.7,1778.2 L1272.5,1778.6 L1273.4,1778.6 L1274.3,1778.3 L1275.2,1778.0 L1275.9,1778.7 L1276.7,1779.9 L1277.4,1781.4 L1278.0,1782.4 L1278.7,1783.2 L1279.4,1781.8 L1280.0,1780.9 L1280.7,1782.5 L1281.4,1783.8 L1282.2,1784.6 L1283.1,1783.2 L1284.0,1783.6 L1284.9,1785.2 L1285.7,1783.6 L1286.4,1784.0 L1287.3,1785.1 L1288.0,1785.0 L1288.8,1785.1 L1289.6,1785.2 L1290.4,1784.2 L1291.3,1784.1 L1292.1,1784.4 L1293.0,1784.8 L1293.9,1784.3 L1294.9,1784.4 L1295.8,1784.5 L1296.8,1783.8 L1297.8,1783.6 L1298.8,1782.3 L1299.8,1783.0 L1300.8,1783.7 L1301.8,1783.0 L1302.8,1782.2 L1303.8,1783.8 L1304.8,1783.9 L1305.8,1783.1 L1306.7,1781.9 L1307.7,1781.3 L1308.7,1782.1 L1309.6,1780.8 L1310.6,1780.4 L1311.5,1780.7 L1312.4,1781.4 L1313.2,1780.3 L1314.1,1780.6 L1314.9,1781.4 L1315.7,1781.5 L1316.4,1780.7 L1317.2,1779.8 L1318.2,1781.9 L1319.0,1780.9 L1319.7,1780.4 L1320.7,1782.7 L1321.7,1783.1 L1322.5,1782.7 L1323.4,1782.1 L1324.2,1781.1 L1324.9,1782.1 L1325.7,1783.2 L1326.4,1783.2 L1327.1,1784.1 L1327.8,1785.8 L1328.6,1784.4 L1329.3,1783.9 L1330.2,1786.1 L1331.0,1787.1 L1331.9,1787.2 L1332.9,1786.8 L1333.6,1787.1 L1334.5,1786.1 L1335.3,1785.4 L1336.0,1787.5 L1336.8,1787.6 L1337.6,1786.6 L1338.4,1788.0 L1339.2,1788.5 L1340.0,1788.4 L1340.8,1786.4 L1341.6,1786.9 L1342.5,1788.4 L1343.3,1788.9 L1344.2,1787.1 L1345.1,1786.1 L1346.0,1787.1 L1346.9,1788.4 L1347.8,1787.4 L1348.7,1787.5 L1349.7,1789.1 L1350.6,1787.2 L1351.6,1788.8 L1352.6,1787.8 L1353.6,1787.4 L1354.6,1788.7 L1355.7,1789.6 L1356.4,1788.0 L1357.1,1787.3 L1357.8,1787.5 L1358.5,1788.0 L1359.2,1788.4 L1360.1,1787.9 L1360.9,1787.2 L1361.8,1786.8 L1362.6,1787.3 L1363.5,1787.3 L1364.4,1788.7 L1365.4,1790.2 L1366.3,1789.4 L1367.3,1790.1 L1368.3,1788.3 L1369.3,1788.7 L1370.4,1788.8 L1371.4,1787.6 L1372.5,1788.9 L1373.2,1789.1 L1373.9,1788.9 L1374.6,1788.2 L1375.3,1789.1 L1376.0,1790.1 L1376.7,1789.3 L1377.4,1788.9 L1378.1,1789.0 L1378.8,1789.5 L1379.5,1790.1 L1380.6,1787.4 L1381.6,1789.8 L1382.6,1789.7 L1383.6,1788.7 L1384.6,1788.7 L1385.6,1789.6 L1386.6,1787.9 L1387.5,1789.6 L1388.4,1789.8 L1389.3,1788.7 L1390.2,1788.1 L1391.0,1788.9 L1391.8,1789.3 L1392.6,1788.4 L1393.3,1787.8 L1394.2,1787.8 L1395.0,1789.3 L1395.8,1787.9 L1396.6,1787.5 L1396.6,1787.5" fill="none" stroke="#000" stroke-width="5.5" stroke-linejoin="round"/>
<g font-family="Liberation Serif, Times New Roman, serif" font-size="45.5" text-anchor="middle" fill="#000">
<text x="822.0" y="61.5">538</text>
<text x="1006.7" y="190.7">657</text>
<text x="507.9" y="346.5">344</text>
<text x="950.0" y="463.7">666</text>
<text x="552.6" y="650.7">370</text>
<text x="690.0" y="684.5">460</text>
<text x="983.0" y="886.6">660</text>
<text x="557.5" y="1016.3">367</text>
<text x="649.0" y="1115.9">430</text>
<text x="1191.9" y="1058.7">770</text>
<text x="643.9" y="1269.1">457</text>
</g>
<g font-family="Liberation Sans, Arial, sans-serif" font-size="54.7">
<text x="1275.5" y="433.9" fill="#008000">Ni/CeMnO<tspan font-size="35" dy="14">x</tspan><tspan dy="-14">/SBA-15 (9:1)</tspan></text>
<text x="1275.5" y="838.1" fill="#ff0000">Ni/CeMnO<tspan font-size="35" dy="14">x</tspan><tspan dy="-14">/SBA-15 (1:1)</tspan></text>
<text x="1277.2" y="1285.4" fill="#0000ff">Ni/CeMnO<tspan font-size="35" dy="14">x</tspan><tspan dy="-14">/SBA-15 (1:4)</tspan></text>
<text x="1277.7" y="1741.1" fill="#000">Ni/SBA-15</text>
</g>
<text x="578.4" y="1956" font-family="Liberation Serif, Times New Roman, serif" font-weight="bold" font-size="70" fill="#000">Temperature (<tspan font-size="47" dy="-24">o</tspan><tspan dy="24">C)</tspan></text>
<text transform="translate(76.9,1188.8) rotate(-90)" x="0" y="0" font-family="Liberation Serif, Times New Roman, serif" font-weight="bold" font-size="69" fill="#000">TCD Signal (a.u.)</text></svg>
</body></html>
